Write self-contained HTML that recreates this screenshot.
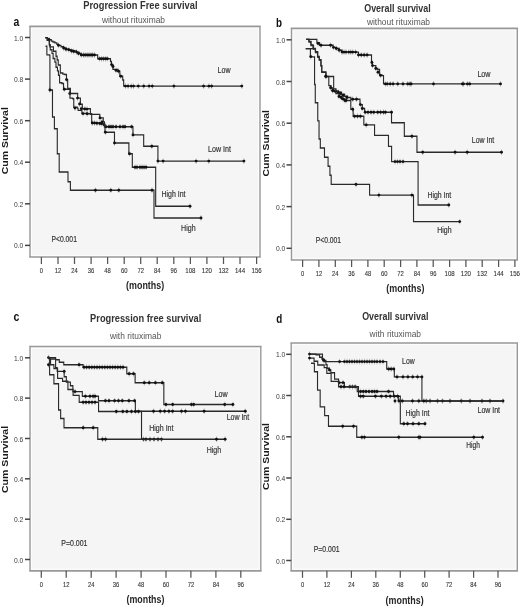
<!DOCTYPE html>
<html><head><meta charset="utf-8"><style>
html,body{margin:0;padding:0;background:#fff;width:520px;height:606px;overflow:hidden}
text{font-family:"Liberation Sans", sans-serif}
</style></head><body>
<svg width="520" height="606" viewBox="0 0 520 606" style="will-change:transform;position:absolute;left:0;top:0">
<rect width="520" height="606" fill="#fff"/>
<rect x="30" y="26.3" width="230" height="230.7" fill="#f5f5f5"/>
<rect x="31.5" y="28.0" width="227" height="227.29999999999998" fill="none" stroke="#fff" stroke-width="0.9" opacity="0.85"/>
<path d="M29.25,26.3H260.75M29.25,257H260.75" stroke="#999" stroke-width="1.7"/>
<path d="M30,26.3V257M260,26.3V257" stroke="#999" stroke-width="1.4"/>
<path d="M25,245.4H30" stroke="#444" stroke-width="1.5"/>
<text x="23.3" y="248.4" font-size="8.0" font-weight="400" fill="#3a3a3a" text-anchor="end" textLength="9.3" lengthAdjust="spacingAndGlyphs">0.0</text>
<path d="M25,203.8H30" stroke="#444" stroke-width="1.5"/>
<text x="23.3" y="206.8" font-size="8.0" font-weight="400" fill="#3a3a3a" text-anchor="end" textLength="9.3" lengthAdjust="spacingAndGlyphs">0.2</text>
<path d="M25,162.2H30" stroke="#444" stroke-width="1.5"/>
<text x="23.3" y="165.2" font-size="8.0" font-weight="400" fill="#3a3a3a" text-anchor="end" textLength="9.3" lengthAdjust="spacingAndGlyphs">0.4</text>
<path d="M25,120.7H30" stroke="#444" stroke-width="1.5"/>
<text x="23.3" y="123.7" font-size="8.0" font-weight="400" fill="#3a3a3a" text-anchor="end" textLength="9.3" lengthAdjust="spacingAndGlyphs">0.6</text>
<path d="M25,79.1H30" stroke="#444" stroke-width="1.5"/>
<text x="23.3" y="82.1" font-size="8.0" font-weight="400" fill="#3a3a3a" text-anchor="end" textLength="9.3" lengthAdjust="spacingAndGlyphs">0.8</text>
<path d="M25,37.5H30" stroke="#444" stroke-width="1.5"/>
<text x="23.3" y="40.5" font-size="8.0" font-weight="400" fill="#3a3a3a" text-anchor="end" textLength="9.3" lengthAdjust="spacingAndGlyphs">1.0</text>
<path d="M41.4,257V264" stroke="#555" stroke-width="1.25"/>
<text x="41.4" y="273.2" font-size="7.6" font-weight="400" fill="#333" text-anchor="middle" textLength="3.2" lengthAdjust="spacingAndGlyphs" stroke="#333" stroke-width="0.12">0</text>
<path d="M58.0,257V264" stroke="#555" stroke-width="1.25"/>
<text x="58.0" y="273.2" font-size="7.6" font-weight="400" fill="#333" text-anchor="middle" textLength="6.5" lengthAdjust="spacingAndGlyphs" stroke="#333" stroke-width="0.12">12</text>
<path d="M74.5,257V264" stroke="#555" stroke-width="1.25"/>
<text x="74.5" y="273.2" font-size="7.6" font-weight="400" fill="#333" text-anchor="middle" textLength="6.5" lengthAdjust="spacingAndGlyphs" stroke="#333" stroke-width="0.12">24</text>
<path d="M91.1,257V264" stroke="#555" stroke-width="1.25"/>
<text x="91.1" y="273.2" font-size="7.6" font-weight="400" fill="#333" text-anchor="middle" textLength="6.5" lengthAdjust="spacingAndGlyphs" stroke="#333" stroke-width="0.12">36</text>
<path d="M107.6,257V264" stroke="#555" stroke-width="1.25"/>
<text x="107.6" y="273.2" font-size="7.6" font-weight="400" fill="#333" text-anchor="middle" textLength="6.5" lengthAdjust="spacingAndGlyphs" stroke="#333" stroke-width="0.12">48</text>
<path d="M124.2,257V264" stroke="#555" stroke-width="1.25"/>
<text x="124.2" y="273.2" font-size="7.6" font-weight="400" fill="#333" text-anchor="middle" textLength="6.5" lengthAdjust="spacingAndGlyphs" stroke="#333" stroke-width="0.12">60</text>
<path d="M140.7,257V264" stroke="#555" stroke-width="1.25"/>
<text x="140.7" y="273.2" font-size="7.6" font-weight="400" fill="#333" text-anchor="middle" textLength="6.5" lengthAdjust="spacingAndGlyphs" stroke="#333" stroke-width="0.12">72</text>
<path d="M157.2,257V264" stroke="#555" stroke-width="1.25"/>
<text x="157.2" y="273.2" font-size="7.6" font-weight="400" fill="#333" text-anchor="middle" textLength="6.5" lengthAdjust="spacingAndGlyphs" stroke="#333" stroke-width="0.12">84</text>
<path d="M173.8,257V264" stroke="#555" stroke-width="1.25"/>
<text x="173.8" y="273.2" font-size="7.6" font-weight="400" fill="#333" text-anchor="middle" textLength="6.5" lengthAdjust="spacingAndGlyphs" stroke="#333" stroke-width="0.12">96</text>
<path d="M190.4,257V264" stroke="#555" stroke-width="1.25"/>
<text x="190.4" y="273.2" font-size="7.6" font-weight="400" fill="#333" text-anchor="middle" textLength="10.2" lengthAdjust="spacingAndGlyphs" stroke="#333" stroke-width="0.12">108</text>
<path d="M206.9,257V264" stroke="#555" stroke-width="1.25"/>
<text x="206.9" y="273.2" font-size="7.6" font-weight="400" fill="#333" text-anchor="middle" textLength="10.2" lengthAdjust="spacingAndGlyphs" stroke="#333" stroke-width="0.12">120</text>
<path d="M223.5,257V264" stroke="#555" stroke-width="1.25"/>
<text x="223.5" y="273.2" font-size="7.6" font-weight="400" fill="#333" text-anchor="middle" textLength="10.2" lengthAdjust="spacingAndGlyphs" stroke="#333" stroke-width="0.12">132</text>
<path d="M240.0,257V264" stroke="#555" stroke-width="1.25"/>
<text x="240.0" y="273.2" font-size="7.6" font-weight="400" fill="#333" text-anchor="middle" textLength="10.2" lengthAdjust="spacingAndGlyphs" stroke="#333" stroke-width="0.12">144</text>
<path d="M256.6,257V264" stroke="#555" stroke-width="1.25"/>
<text x="256.6" y="273.2" font-size="7.6" font-weight="400" fill="#333" text-anchor="middle" textLength="10.2" lengthAdjust="spacingAndGlyphs" stroke="#333" stroke-width="0.12">156</text>
<rect x="291.5" y="28.3" width="225.79999999999995" height="231.7" fill="#f5f5f5"/>
<rect x="293.0" y="30.0" width="222.79999999999995" height="228.29999999999998" fill="none" stroke="#fff" stroke-width="0.9" opacity="0.85"/>
<path d="M290.75,28.3H518.05M290.75,260H518.05" stroke="#999" stroke-width="1.7"/>
<path d="M291.5,28.3V260M517.3,28.3V260" stroke="#999" stroke-width="1.4"/>
<path d="M286.5,248.3H291.5" stroke="#444" stroke-width="1.5"/>
<text x="285.3" y="251.3" font-size="8.0" font-weight="400" fill="#3a3a3a" text-anchor="end" textLength="9.3" lengthAdjust="spacingAndGlyphs">0.0</text>
<path d="M286.5,206.6H291.5" stroke="#444" stroke-width="1.5"/>
<text x="285.3" y="209.6" font-size="8.0" font-weight="400" fill="#3a3a3a" text-anchor="end" textLength="9.3" lengthAdjust="spacingAndGlyphs">0.2</text>
<path d="M286.5,164.9H291.5" stroke="#444" stroke-width="1.5"/>
<text x="285.3" y="167.9" font-size="8.0" font-weight="400" fill="#3a3a3a" text-anchor="end" textLength="9.3" lengthAdjust="spacingAndGlyphs">0.4</text>
<path d="M286.5,123.2H291.5" stroke="#444" stroke-width="1.5"/>
<text x="285.3" y="126.2" font-size="8.0" font-weight="400" fill="#3a3a3a" text-anchor="end" textLength="9.3" lengthAdjust="spacingAndGlyphs">0.6</text>
<path d="M286.5,81.5H291.5" stroke="#444" stroke-width="1.5"/>
<text x="285.3" y="84.5" font-size="8.0" font-weight="400" fill="#3a3a3a" text-anchor="end" textLength="9.3" lengthAdjust="spacingAndGlyphs">0.8</text>
<path d="M286.5,39.8H291.5" stroke="#444" stroke-width="1.5"/>
<text x="285.3" y="42.8" font-size="8.0" font-weight="400" fill="#3a3a3a" text-anchor="end" textLength="9.3" lengthAdjust="spacingAndGlyphs">1.0</text>
<path d="M302.6,260V267" stroke="#555" stroke-width="1.25"/>
<text x="302.6" y="276.2" font-size="7.6" font-weight="400" fill="#333" text-anchor="middle" textLength="3.2" lengthAdjust="spacingAndGlyphs" stroke="#333" stroke-width="0.12">0</text>
<path d="M318.9,260V267" stroke="#555" stroke-width="1.25"/>
<text x="318.9" y="276.2" font-size="7.6" font-weight="400" fill="#333" text-anchor="middle" textLength="6.5" lengthAdjust="spacingAndGlyphs" stroke="#333" stroke-width="0.12">12</text>
<path d="M335.3,260V267" stroke="#555" stroke-width="1.25"/>
<text x="335.3" y="276.2" font-size="7.6" font-weight="400" fill="#333" text-anchor="middle" textLength="6.5" lengthAdjust="spacingAndGlyphs" stroke="#333" stroke-width="0.12">24</text>
<path d="M351.6,260V267" stroke="#555" stroke-width="1.25"/>
<text x="351.6" y="276.2" font-size="7.6" font-weight="400" fill="#333" text-anchor="middle" textLength="6.5" lengthAdjust="spacingAndGlyphs" stroke="#333" stroke-width="0.12">36</text>
<path d="M367.9,260V267" stroke="#555" stroke-width="1.25"/>
<text x="367.9" y="276.2" font-size="7.6" font-weight="400" fill="#333" text-anchor="middle" textLength="6.5" lengthAdjust="spacingAndGlyphs" stroke="#333" stroke-width="0.12">48</text>
<path d="M384.2,260V267" stroke="#555" stroke-width="1.25"/>
<text x="384.2" y="276.2" font-size="7.6" font-weight="400" fill="#333" text-anchor="middle" textLength="6.5" lengthAdjust="spacingAndGlyphs" stroke="#333" stroke-width="0.12">60</text>
<path d="M400.6,260V267" stroke="#555" stroke-width="1.25"/>
<text x="400.6" y="276.2" font-size="7.6" font-weight="400" fill="#333" text-anchor="middle" textLength="6.5" lengthAdjust="spacingAndGlyphs" stroke="#333" stroke-width="0.12">72</text>
<path d="M416.9,260V267" stroke="#555" stroke-width="1.25"/>
<text x="416.9" y="276.2" font-size="7.6" font-weight="400" fill="#333" text-anchor="middle" textLength="6.5" lengthAdjust="spacingAndGlyphs" stroke="#333" stroke-width="0.12">84</text>
<path d="M433.2,260V267" stroke="#555" stroke-width="1.25"/>
<text x="433.2" y="276.2" font-size="7.6" font-weight="400" fill="#333" text-anchor="middle" textLength="6.5" lengthAdjust="spacingAndGlyphs" stroke="#333" stroke-width="0.12">96</text>
<path d="M449.6,260V267" stroke="#555" stroke-width="1.25"/>
<text x="449.6" y="276.2" font-size="7.6" font-weight="400" fill="#333" text-anchor="middle" textLength="10.2" lengthAdjust="spacingAndGlyphs" stroke="#333" stroke-width="0.12">108</text>
<path d="M465.9,260V267" stroke="#555" stroke-width="1.25"/>
<text x="465.9" y="276.2" font-size="7.6" font-weight="400" fill="#333" text-anchor="middle" textLength="10.2" lengthAdjust="spacingAndGlyphs" stroke="#333" stroke-width="0.12">120</text>
<path d="M482.2,260V267" stroke="#555" stroke-width="1.25"/>
<text x="482.2" y="276.2" font-size="7.6" font-weight="400" fill="#333" text-anchor="middle" textLength="10.2" lengthAdjust="spacingAndGlyphs" stroke="#333" stroke-width="0.12">132</text>
<path d="M498.6,260V267" stroke="#555" stroke-width="1.25"/>
<text x="498.6" y="276.2" font-size="7.6" font-weight="400" fill="#333" text-anchor="middle" textLength="10.2" lengthAdjust="spacingAndGlyphs" stroke="#333" stroke-width="0.12">144</text>
<path d="M514.9,260V267" stroke="#555" stroke-width="1.25"/>
<text x="514.9" y="276.2" font-size="7.6" font-weight="400" fill="#333" text-anchor="middle" textLength="10.2" lengthAdjust="spacingAndGlyphs" stroke="#333" stroke-width="0.12">156</text>
<rect x="30" y="346.5" width="230.8" height="224.29999999999995" fill="#f5f5f5"/>
<rect x="31.5" y="348.2" width="227.8" height="220.89999999999995" fill="none" stroke="#fff" stroke-width="0.9" opacity="0.85"/>
<path d="M29.25,346.5H261.55M29.25,570.8H261.55" stroke="#999" stroke-width="1.7"/>
<path d="M30,346.5V570.8M260.8,346.5V570.8" stroke="#999" stroke-width="1.4"/>
<path d="M25,559.5H30" stroke="#444" stroke-width="1.5"/>
<text x="23.3" y="562.5" font-size="8.0" font-weight="400" fill="#3a3a3a" text-anchor="end" textLength="9.3" lengthAdjust="spacingAndGlyphs">0.0</text>
<path d="M25,519.2H30" stroke="#444" stroke-width="1.5"/>
<text x="23.3" y="522.2" font-size="8.0" font-weight="400" fill="#3a3a3a" text-anchor="end" textLength="9.3" lengthAdjust="spacingAndGlyphs">0.2</text>
<path d="M25,478.8H30" stroke="#444" stroke-width="1.5"/>
<text x="23.3" y="481.8" font-size="8.0" font-weight="400" fill="#3a3a3a" text-anchor="end" textLength="9.3" lengthAdjust="spacingAndGlyphs">0.4</text>
<path d="M25,438.5H30" stroke="#444" stroke-width="1.5"/>
<text x="23.3" y="441.5" font-size="8.0" font-weight="400" fill="#3a3a3a" text-anchor="end" textLength="9.3" lengthAdjust="spacingAndGlyphs">0.6</text>
<path d="M25,398.1H30" stroke="#444" stroke-width="1.5"/>
<text x="23.3" y="401.1" font-size="8.0" font-weight="400" fill="#3a3a3a" text-anchor="end" textLength="9.3" lengthAdjust="spacingAndGlyphs">0.8</text>
<path d="M25,357.8H30" stroke="#444" stroke-width="1.5"/>
<text x="23.3" y="360.8" font-size="8.0" font-weight="400" fill="#3a3a3a" text-anchor="end" textLength="9.3" lengthAdjust="spacingAndGlyphs">1.0</text>
<path d="M41.3,570.8V577.8" stroke="#555" stroke-width="1.25"/>
<text x="41.3" y="587.0" font-size="7.6" font-weight="400" fill="#333" text-anchor="middle" textLength="3.2" lengthAdjust="spacingAndGlyphs" stroke="#333" stroke-width="0.12">0</text>
<path d="M66.2,570.8V577.8" stroke="#555" stroke-width="1.25"/>
<text x="66.2" y="587.0" font-size="7.6" font-weight="400" fill="#333" text-anchor="middle" textLength="6.5" lengthAdjust="spacingAndGlyphs" stroke="#333" stroke-width="0.12">12</text>
<path d="M91.2,570.8V577.8" stroke="#555" stroke-width="1.25"/>
<text x="91.2" y="587.0" font-size="7.6" font-weight="400" fill="#333" text-anchor="middle" textLength="6.5" lengthAdjust="spacingAndGlyphs" stroke="#333" stroke-width="0.12">24</text>
<path d="M116.1,570.8V577.8" stroke="#555" stroke-width="1.25"/>
<text x="116.1" y="587.0" font-size="7.6" font-weight="400" fill="#333" text-anchor="middle" textLength="6.5" lengthAdjust="spacingAndGlyphs" stroke="#333" stroke-width="0.12">36</text>
<path d="M141.1,570.8V577.8" stroke="#555" stroke-width="1.25"/>
<text x="141.1" y="587.0" font-size="7.6" font-weight="400" fill="#333" text-anchor="middle" textLength="6.5" lengthAdjust="spacingAndGlyphs" stroke="#333" stroke-width="0.12">48</text>
<path d="M166.0,570.8V577.8" stroke="#555" stroke-width="1.25"/>
<text x="166.0" y="587.0" font-size="7.6" font-weight="400" fill="#333" text-anchor="middle" textLength="6.5" lengthAdjust="spacingAndGlyphs" stroke="#333" stroke-width="0.12">60</text>
<path d="M190.9,570.8V577.8" stroke="#555" stroke-width="1.25"/>
<text x="190.9" y="587.0" font-size="7.6" font-weight="400" fill="#333" text-anchor="middle" textLength="6.5" lengthAdjust="spacingAndGlyphs" stroke="#333" stroke-width="0.12">72</text>
<path d="M215.9,570.8V577.8" stroke="#555" stroke-width="1.25"/>
<text x="215.9" y="587.0" font-size="7.6" font-weight="400" fill="#333" text-anchor="middle" textLength="6.5" lengthAdjust="spacingAndGlyphs" stroke="#333" stroke-width="0.12">84</text>
<path d="M240.8,570.8V577.8" stroke="#555" stroke-width="1.25"/>
<text x="240.8" y="587.0" font-size="7.6" font-weight="400" fill="#333" text-anchor="middle" textLength="6.5" lengthAdjust="spacingAndGlyphs" stroke="#333" stroke-width="0.12">96</text>
<rect x="291.2" y="343" width="226.09999999999997" height="227.79999999999995" fill="#f5f5f5"/>
<rect x="292.7" y="344.7" width="223.09999999999997" height="224.39999999999995" fill="none" stroke="#fff" stroke-width="0.9" opacity="0.85"/>
<path d="M290.45,343H518.05M290.45,570.8H518.05" stroke="#999" stroke-width="1.7"/>
<path d="M291.2,343V570.8M517.3,343V570.8" stroke="#999" stroke-width="1.4"/>
<path d="M286.2,560.5H291.2" stroke="#444" stroke-width="1.5"/>
<text x="285.3" y="563.5" font-size="8.0" font-weight="400" fill="#3a3a3a" text-anchor="end" textLength="9.3" lengthAdjust="spacingAndGlyphs">0.0</text>
<path d="M286.2,519.3H291.2" stroke="#444" stroke-width="1.5"/>
<text x="285.3" y="522.3" font-size="8.0" font-weight="400" fill="#3a3a3a" text-anchor="end" textLength="9.3" lengthAdjust="spacingAndGlyphs">0.2</text>
<path d="M286.2,478.0H291.2" stroke="#444" stroke-width="1.5"/>
<text x="285.3" y="481.0" font-size="8.0" font-weight="400" fill="#3a3a3a" text-anchor="end" textLength="9.3" lengthAdjust="spacingAndGlyphs">0.4</text>
<path d="M286.2,436.8H291.2" stroke="#444" stroke-width="1.5"/>
<text x="285.3" y="439.8" font-size="8.0" font-weight="400" fill="#3a3a3a" text-anchor="end" textLength="9.3" lengthAdjust="spacingAndGlyphs">0.6</text>
<path d="M286.2,395.5H291.2" stroke="#444" stroke-width="1.5"/>
<text x="285.3" y="398.5" font-size="8.0" font-weight="400" fill="#3a3a3a" text-anchor="end" textLength="9.3" lengthAdjust="spacingAndGlyphs">0.8</text>
<path d="M286.2,354.3H291.2" stroke="#444" stroke-width="1.5"/>
<text x="285.3" y="357.3" font-size="8.0" font-weight="400" fill="#3a3a3a" text-anchor="end" textLength="9.3" lengthAdjust="spacingAndGlyphs">1.0</text>
<path d="M302.5,570.8V577.8" stroke="#555" stroke-width="1.25"/>
<text x="302.5" y="587.0" font-size="7.6" font-weight="400" fill="#333" text-anchor="middle" textLength="3.2" lengthAdjust="spacingAndGlyphs" stroke="#333" stroke-width="0.12">0</text>
<path d="M326.9,570.8V577.8" stroke="#555" stroke-width="1.25"/>
<text x="326.9" y="587.0" font-size="7.6" font-weight="400" fill="#333" text-anchor="middle" textLength="6.5" lengthAdjust="spacingAndGlyphs" stroke="#333" stroke-width="0.12">12</text>
<path d="M351.4,570.8V577.8" stroke="#555" stroke-width="1.25"/>
<text x="351.4" y="587.0" font-size="7.6" font-weight="400" fill="#333" text-anchor="middle" textLength="6.5" lengthAdjust="spacingAndGlyphs" stroke="#333" stroke-width="0.12">24</text>
<path d="M375.8,570.8V577.8" stroke="#555" stroke-width="1.25"/>
<text x="375.8" y="587.0" font-size="7.6" font-weight="400" fill="#333" text-anchor="middle" textLength="6.5" lengthAdjust="spacingAndGlyphs" stroke="#333" stroke-width="0.12">36</text>
<path d="M400.3,570.8V577.8" stroke="#555" stroke-width="1.25"/>
<text x="400.3" y="587.0" font-size="7.6" font-weight="400" fill="#333" text-anchor="middle" textLength="6.5" lengthAdjust="spacingAndGlyphs" stroke="#333" stroke-width="0.12">48</text>
<path d="M424.7,570.8V577.8" stroke="#555" stroke-width="1.25"/>
<text x="424.7" y="587.0" font-size="7.6" font-weight="400" fill="#333" text-anchor="middle" textLength="6.5" lengthAdjust="spacingAndGlyphs" stroke="#333" stroke-width="0.12">60</text>
<path d="M449.1,570.8V577.8" stroke="#555" stroke-width="1.25"/>
<text x="449.1" y="587.0" font-size="7.6" font-weight="400" fill="#333" text-anchor="middle" textLength="6.5" lengthAdjust="spacingAndGlyphs" stroke="#333" stroke-width="0.12">72</text>
<path d="M473.6,570.8V577.8" stroke="#555" stroke-width="1.25"/>
<text x="473.6" y="587.0" font-size="7.6" font-weight="400" fill="#333" text-anchor="middle" textLength="6.5" lengthAdjust="spacingAndGlyphs" stroke="#333" stroke-width="0.12">84</text>
<path d="M498.0,570.8V577.8" stroke="#555" stroke-width="1.25"/>
<text x="498.0" y="587.0" font-size="7.6" font-weight="400" fill="#333" text-anchor="middle" textLength="6.5" lengthAdjust="spacingAndGlyphs" stroke="#333" stroke-width="0.12">96</text>
<text x="13.6" y="26.2" font-size="12.5" font-weight="700" fill="#111" text-anchor="start" textLength="5.8" lengthAdjust="spacingAndGlyphs">a</text>
<text x="276.0" y="27.2" font-size="12.5" font-weight="700" fill="#111" text-anchor="start" textLength="6.0" lengthAdjust="spacingAndGlyphs">b</text>
<text x="13.4" y="320.8" font-size="12.5" font-weight="700" fill="#111" text-anchor="start" textLength="5.9" lengthAdjust="spacingAndGlyphs">c</text>
<text x="276.3" y="322.9" font-size="12.5" font-weight="700" fill="#111" text-anchor="start" textLength="6.0" lengthAdjust="spacingAndGlyphs">d</text>
<text x="83.2" y="9.0" font-size="11" font-weight="700" fill="#333" text-anchor="start" textLength="114.3" lengthAdjust="spacingAndGlyphs">Progression Free survival</text>
<text x="101.9" y="23.0" font-size="9" font-weight="400" fill="#555" text-anchor="start" textLength="63.1" lengthAdjust="spacingAndGlyphs">without rituximab</text>
<text x="364.2" y="11.6" font-size="11" font-weight="700" fill="#333" text-anchor="start" textLength="66.6" lengthAdjust="spacingAndGlyphs">Overall survival</text>
<text x="366.9" y="25.2" font-size="9" font-weight="400" fill="#555" text-anchor="start" textLength="63.1" lengthAdjust="spacingAndGlyphs">without rituximab</text>
<text x="90.1" y="322.0" font-size="11" font-weight="700" fill="#333" text-anchor="start" textLength="111.2" lengthAdjust="spacingAndGlyphs">Progression free survival</text>
<text x="109.9" y="339.2" font-size="9" font-weight="400" fill="#555" text-anchor="start" textLength="51.5" lengthAdjust="spacingAndGlyphs">with rituximab</text>
<text x="362.2" y="320.0" font-size="11" font-weight="700" fill="#333" text-anchor="start" textLength="66.2" lengthAdjust="spacingAndGlyphs">Overall survival</text>
<text x="369.6" y="337.4" font-size="9" font-weight="400" fill="#555" text-anchor="start" textLength="51.4" lengthAdjust="spacingAndGlyphs">with rituximab</text>
<text x="126.1" y="289.2" font-size="10" font-weight="700" fill="#262626" text-anchor="start" textLength="38.1" lengthAdjust="spacingAndGlyphs">(months)</text>
<text x="386.3" y="292.2" font-size="10" font-weight="700" fill="#262626" text-anchor="start" textLength="38.1" lengthAdjust="spacingAndGlyphs">(months)</text>
<text x="126.5" y="602.7" font-size="10" font-weight="700" fill="#262626" text-anchor="start" textLength="37.9" lengthAdjust="spacingAndGlyphs">(months)</text>
<text x="385.6" y="603.5" font-size="10" font-weight="700" fill="#262626" text-anchor="start" textLength="38.1" lengthAdjust="spacingAndGlyphs">(months)</text>
<text transform="translate(7.8,174.3) scale(0.8,1) rotate(-90)" font-size="10.5" font-weight="700" fill="#1a1a1a" text-anchor="start" textLength="67.1" lengthAdjust="spacingAndGlyphs">Cum Survival</text>
<text transform="translate(269.0,176.4) scale(0.8,1) rotate(-90)" font-size="10.5" font-weight="700" fill="#1a1a1a" text-anchor="start" textLength="66.4" lengthAdjust="spacingAndGlyphs">Cum Survival</text>
<text transform="translate(7.8,493.0) scale(0.8,1) rotate(-90)" font-size="10.5" font-weight="700" fill="#1a1a1a" text-anchor="start" textLength="67.1" lengthAdjust="spacingAndGlyphs">Cum Survival</text>
<text transform="translate(269.0,490.0) scale(0.8,1) rotate(-90)" font-size="10.5" font-weight="700" fill="#1a1a1a" text-anchor="start" textLength="66.9" lengthAdjust="spacingAndGlyphs">Cum Survival</text>
<text x="51.5" y="242.3" font-size="8.5" font-weight="400" fill="#333" text-anchor="start" textLength="25.4" lengthAdjust="spacingAndGlyphs" stroke="#333" stroke-width="0.18">P&lt;0.001</text>
<text x="315.8" y="242.5" font-size="8.5" font-weight="400" fill="#333" text-anchor="start" textLength="25.2" lengthAdjust="spacingAndGlyphs" stroke="#333" stroke-width="0.18">P&lt;0.001</text>
<text x="61.3" y="546.3" font-size="8.5" font-weight="400" fill="#333" text-anchor="start" textLength="26.2" lengthAdjust="spacingAndGlyphs" stroke="#333" stroke-width="0.18">P=0.001</text>
<text x="313.8" y="551.8" font-size="8.5" font-weight="400" fill="#333" text-anchor="start" textLength="25.7" lengthAdjust="spacingAndGlyphs" stroke="#333" stroke-width="0.18">P=0.001</text>
<text x="217.6" y="72.8" font-size="8.5" font-weight="400" fill="#333" text-anchor="start" textLength="12.9" lengthAdjust="spacingAndGlyphs" stroke="#333" stroke-width="0.18">Low</text>
<text x="208.1" y="152.1" font-size="8.5" font-weight="400" fill="#333" text-anchor="start" textLength="22.8" lengthAdjust="spacingAndGlyphs" stroke="#333" stroke-width="0.18">Low Int</text>
<text x="161.5" y="197.1" font-size="8.5" font-weight="400" fill="#333" text-anchor="start" textLength="24.0" lengthAdjust="spacingAndGlyphs" stroke="#333" stroke-width="0.18">High Int</text>
<text x="181.1" y="230.7" font-size="8.5" font-weight="400" fill="#333" text-anchor="start" textLength="14.5" lengthAdjust="spacingAndGlyphs" stroke="#333" stroke-width="0.18">High</text>
<text x="477.4" y="76.9" font-size="8.5" font-weight="400" fill="#333" text-anchor="start" textLength="13.1" lengthAdjust="spacingAndGlyphs" stroke="#333" stroke-width="0.18">Low</text>
<text x="471.8" y="143.4" font-size="8.5" font-weight="400" fill="#333" text-anchor="start" textLength="22.4" lengthAdjust="spacingAndGlyphs" stroke="#333" stroke-width="0.18">Low Int</text>
<text x="427.4" y="198.0" font-size="8.5" font-weight="400" fill="#333" text-anchor="start" textLength="23.8" lengthAdjust="spacingAndGlyphs" stroke="#333" stroke-width="0.18">High Int</text>
<text x="437.3" y="233.4" font-size="8.5" font-weight="400" fill="#333" text-anchor="start" textLength="14.3" lengthAdjust="spacingAndGlyphs" stroke="#333" stroke-width="0.18">High</text>
<text x="214.5" y="396.7" font-size="8.5" font-weight="400" fill="#333" text-anchor="start" textLength="13.1" lengthAdjust="spacingAndGlyphs" stroke="#333" stroke-width="0.18">Low</text>
<text x="226.7" y="419.7" font-size="8.5" font-weight="400" fill="#333" text-anchor="start" textLength="22.5" lengthAdjust="spacingAndGlyphs" stroke="#333" stroke-width="0.18">Low Int</text>
<text x="149.2" y="430.6" font-size="8.5" font-weight="400" fill="#333" text-anchor="start" textLength="24.3" lengthAdjust="spacingAndGlyphs" stroke="#333" stroke-width="0.18">High Int</text>
<text x="206.7" y="452.6" font-size="8.5" font-weight="400" fill="#333" text-anchor="start" textLength="14.5" lengthAdjust="spacingAndGlyphs" stroke="#333" stroke-width="0.18">High</text>
<text x="402.1" y="363.8" font-size="8.5" font-weight="400" fill="#333" text-anchor="start" textLength="12.5" lengthAdjust="spacingAndGlyphs" stroke="#333" stroke-width="0.18">Low</text>
<text x="477.5" y="412.5" font-size="8.5" font-weight="400" fill="#333" text-anchor="start" textLength="22.5" lengthAdjust="spacingAndGlyphs" stroke="#333" stroke-width="0.18">Low Int</text>
<text x="405.5" y="416.0" font-size="8.5" font-weight="400" fill="#333" text-anchor="start" textLength="24.0" lengthAdjust="spacingAndGlyphs" stroke="#333" stroke-width="0.18">High Int</text>
<text x="466.3" y="447.5" font-size="8.5" font-weight="400" fill="#333" text-anchor="start" textLength="13.7" lengthAdjust="spacingAndGlyphs" stroke="#333" stroke-width="0.18">High</text>
<path transform="scale(0.8,1)" d="M56.6,37.6H58.8V38.6H61.2V39.8H64.1V41.1H66.2V42.0H68.6V42.9H71.0V44.2H73.1V45.4H76.2V46.7H79.5V48.0H82.5V49.2H85.6V49.8H88.5V50.2H91.2V51.0H95.6V52.1H98.8V53.5H101.6V55.0H119.7H122.1V58.8H136.5H138.1V61.5H139.4V64.6H141.2V69.4H147.4V71.3H149.8V76.2H153.4V80.0H154.6V86.1H302.2" fill="none" stroke="#2a2a2a" stroke-width="1.4"/>
<path d="M49.0,37.0V42.6" stroke="#2a2a2a" stroke-width="0.8" opacity="0.35"/>
<circle cx="49.0" cy="39.8" r="1.45" fill="#111"/>
<path d="M58.5,42.6V48.2" stroke="#2a2a2a" stroke-width="0.8" opacity="0.35"/>
<circle cx="58.5" cy="45.4" r="1.45" fill="#111"/>
<path d="M63.6,45.2V50.8" stroke="#2a2a2a" stroke-width="0.8" opacity="0.35"/>
<circle cx="63.6" cy="48.0" r="1.45" fill="#111"/>
<path d="M66.0,46.4V52.0" stroke="#2a2a2a" stroke-width="0.8" opacity="0.35"/>
<circle cx="66.0" cy="49.2" r="1.45" fill="#111"/>
<path d="M68.8,47.0V52.6" stroke="#2a2a2a" stroke-width="0.8" opacity="0.35"/>
<circle cx="68.8" cy="49.8" r="1.45" fill="#111"/>
<path d="M71.5,48.2V53.8" stroke="#2a2a2a" stroke-width="0.8" opacity="0.35"/>
<circle cx="71.5" cy="51.0" r="1.45" fill="#111"/>
<path d="M73.7,48.7V54.3" stroke="#2a2a2a" stroke-width="0.8" opacity="0.35"/>
<circle cx="73.7" cy="51.5" r="1.45" fill="#111"/>
<path d="M76.5,49.3V54.9" stroke="#2a2a2a" stroke-width="0.8" opacity="0.35"/>
<circle cx="76.5" cy="52.1" r="1.45" fill="#111"/>
<path d="M78.5,50.7V56.3" stroke="#2a2a2a" stroke-width="0.8" opacity="0.35"/>
<circle cx="78.5" cy="53.5" r="1.45" fill="#111"/>
<path d="M81.3,52.2V57.8" stroke="#2a2a2a" stroke-width="0.8" opacity="0.35"/>
<circle cx="81.3" cy="55.0" r="1.45" fill="#111"/>
<path d="M83.5,52.2V57.8" stroke="#2a2a2a" stroke-width="0.8" opacity="0.35"/>
<circle cx="83.5" cy="55.0" r="1.45" fill="#111"/>
<path d="M85.2,52.2V57.8" stroke="#2a2a2a" stroke-width="0.8" opacity="0.35"/>
<circle cx="85.2" cy="55.0" r="1.45" fill="#111"/>
<path d="M87.2,52.2V57.8" stroke="#2a2a2a" stroke-width="0.8" opacity="0.35"/>
<circle cx="87.2" cy="55.0" r="1.45" fill="#111"/>
<path d="M89.0,52.2V57.8" stroke="#2a2a2a" stroke-width="0.8" opacity="0.35"/>
<circle cx="89.0" cy="55.0" r="1.45" fill="#111"/>
<path d="M91.0,52.2V57.8" stroke="#2a2a2a" stroke-width="0.8" opacity="0.35"/>
<circle cx="91.0" cy="55.0" r="1.45" fill="#111"/>
<path d="M92.5,52.2V57.8" stroke="#2a2a2a" stroke-width="0.8" opacity="0.35"/>
<circle cx="92.5" cy="55.0" r="1.45" fill="#111"/>
<path d="M94.5,52.2V57.8" stroke="#2a2a2a" stroke-width="0.8" opacity="0.35"/>
<circle cx="94.5" cy="55.0" r="1.45" fill="#111"/>
<path d="M99.6,56.0V61.6" stroke="#2a2a2a" stroke-width="0.8" opacity="0.35"/>
<circle cx="99.6" cy="58.8" r="1.45" fill="#111"/>
<path d="M101.5,56.0V61.6" stroke="#2a2a2a" stroke-width="0.8" opacity="0.35"/>
<circle cx="101.5" cy="58.8" r="1.45" fill="#111"/>
<path d="M103.5,56.0V61.6" stroke="#2a2a2a" stroke-width="0.8" opacity="0.35"/>
<circle cx="103.5" cy="58.8" r="1.45" fill="#111"/>
<path d="M105.5,56.0V61.6" stroke="#2a2a2a" stroke-width="0.8" opacity="0.35"/>
<circle cx="105.5" cy="58.8" r="1.45" fill="#111"/>
<path d="M107.3,56.0V61.6" stroke="#2a2a2a" stroke-width="0.8" opacity="0.35"/>
<circle cx="107.3" cy="58.8" r="1.45" fill="#111"/>
<path d="M111.5,61.8V67.4" stroke="#2a2a2a" stroke-width="0.8" opacity="0.35"/>
<circle cx="111.5" cy="64.6" r="1.45" fill="#111"/>
<path d="M113.0,63.7V69.3" stroke="#2a2a2a" stroke-width="0.8" opacity="0.35"/>
<circle cx="113.0" cy="66.5" r="1.45" fill="#111"/>
<path d="M116.0,67.6V73.2" stroke="#2a2a2a" stroke-width="0.8" opacity="0.35"/>
<circle cx="116.0" cy="70.4" r="1.45" fill="#111"/>
<path d="M118.5,68.5V74.1" stroke="#2a2a2a" stroke-width="0.8" opacity="0.35"/>
<circle cx="118.5" cy="71.3" r="1.45" fill="#111"/>
<path d="M120.8,73.4V79.0" stroke="#2a2a2a" stroke-width="0.8" opacity="0.35"/>
<circle cx="120.8" cy="76.2" r="1.45" fill="#111"/>
<path d="M125.4,83.3V88.9" stroke="#2a2a2a" stroke-width="0.8" opacity="0.35"/>
<circle cx="125.4" cy="86.1" r="1.45" fill="#111"/>
<path d="M128.1,83.3V88.9" stroke="#2a2a2a" stroke-width="0.8" opacity="0.35"/>
<circle cx="128.1" cy="86.1" r="1.45" fill="#111"/>
<path d="M131.3,83.3V88.9" stroke="#2a2a2a" stroke-width="0.8" opacity="0.35"/>
<circle cx="131.3" cy="86.1" r="1.45" fill="#111"/>
<path d="M133.5,83.3V88.9" stroke="#2a2a2a" stroke-width="0.8" opacity="0.35"/>
<circle cx="133.5" cy="86.1" r="1.45" fill="#111"/>
<path d="M138.3,83.3V88.9" stroke="#2a2a2a" stroke-width="0.8" opacity="0.35"/>
<circle cx="138.3" cy="86.1" r="1.45" fill="#111"/>
<path d="M143.7,83.3V88.9" stroke="#2a2a2a" stroke-width="0.8" opacity="0.35"/>
<circle cx="143.7" cy="86.1" r="1.45" fill="#111"/>
<path d="M149.1,83.3V88.9" stroke="#2a2a2a" stroke-width="0.8" opacity="0.35"/>
<circle cx="149.1" cy="86.1" r="1.45" fill="#111"/>
<path d="M152.3,83.3V88.9" stroke="#2a2a2a" stroke-width="0.8" opacity="0.35"/>
<circle cx="152.3" cy="86.1" r="1.45" fill="#111"/>
<path d="M173.9,83.3V88.9" stroke="#2a2a2a" stroke-width="0.8" opacity="0.35"/>
<circle cx="173.9" cy="86.1" r="1.45" fill="#111"/>
<path d="M203.6,83.3V88.9" stroke="#2a2a2a" stroke-width="0.8" opacity="0.35"/>
<circle cx="203.6" cy="86.1" r="1.45" fill="#111"/>
<path d="M208.9,83.3V88.9" stroke="#2a2a2a" stroke-width="0.8" opacity="0.35"/>
<circle cx="208.9" cy="86.1" r="1.45" fill="#111"/>
<path d="M211.6,83.3V88.9" stroke="#2a2a2a" stroke-width="0.8" opacity="0.35"/>
<circle cx="211.6" cy="86.1" r="1.45" fill="#111"/>
<path d="M241.8,83.3V88.9" stroke="#2a2a2a" stroke-width="0.8" opacity="0.35"/>
<circle cx="241.8" cy="86.1" r="1.45" fill="#111"/>
<path transform="scale(0.8,1)" d="M56.6,37.6H59.1V40.4H61.7V44.7H62.2V46.9H66.8V51.3H70.0V56.3H71.4V60.0H72.8V60.7V65.0H75.4V65.8V73.0H78.6V74.1H80.9V74.5H83.1V79.6H84.6V88.5H88.0V93.5H97.1V98.1H99.0H100.5V104.2H102.9V108.8H113.0V109.2V114.4H121.9H124.7V117.9H129.1V121.9H130.6V126.8H164.5H166.2V134.9H179.6V146.3H197.4V161.1H304.9" fill="none" stroke="#2a2a2a" stroke-width="1.4"/>
<path d="M66.5,76.8V82.4" stroke="#2a2a2a" stroke-width="0.8" opacity="0.35"/>
<circle cx="66.5" cy="79.6" r="1.45" fill="#111"/>
<path d="M69.8,90.7V96.3" stroke="#2a2a2a" stroke-width="0.8" opacity="0.35"/>
<circle cx="69.8" cy="93.5" r="1.45" fill="#111"/>
<path d="M77.5,95.3V100.9" stroke="#2a2a2a" stroke-width="0.8" opacity="0.35"/>
<circle cx="77.5" cy="98.1" r="1.45" fill="#111"/>
<path d="M79.6,101.2V106.8" stroke="#2a2a2a" stroke-width="0.8" opacity="0.35"/>
<circle cx="79.6" cy="104.0" r="1.45" fill="#111"/>
<path d="M81.3,106.0V111.6" stroke="#2a2a2a" stroke-width="0.8" opacity="0.35"/>
<circle cx="81.3" cy="108.8" r="1.45" fill="#111"/>
<path d="M84.8,106.2V111.8" stroke="#2a2a2a" stroke-width="0.8" opacity="0.35"/>
<circle cx="84.8" cy="109.0" r="1.45" fill="#111"/>
<path d="M87.0,106.3V111.9" stroke="#2a2a2a" stroke-width="0.8" opacity="0.35"/>
<circle cx="87.0" cy="109.1" r="1.45" fill="#111"/>
<path d="M100.0,115.1V120.7" stroke="#2a2a2a" stroke-width="0.8" opacity="0.35"/>
<circle cx="100.0" cy="117.9" r="1.45" fill="#111"/>
<path d="M102.0,119.1V124.7" stroke="#2a2a2a" stroke-width="0.8" opacity="0.35"/>
<circle cx="102.0" cy="121.9" r="1.45" fill="#111"/>
<path d="M103.8,121.7V127.3" stroke="#2a2a2a" stroke-width="0.8" opacity="0.35"/>
<circle cx="103.8" cy="124.5" r="1.45" fill="#111"/>
<path d="M106.0,124.0V129.6" stroke="#2a2a2a" stroke-width="0.8" opacity="0.35"/>
<circle cx="106.0" cy="126.8" r="1.45" fill="#111"/>
<path d="M109.0,124.0V129.6" stroke="#2a2a2a" stroke-width="0.8" opacity="0.35"/>
<circle cx="109.0" cy="126.8" r="1.45" fill="#111"/>
<path d="M111.0,124.0V129.6" stroke="#2a2a2a" stroke-width="0.8" opacity="0.35"/>
<circle cx="111.0" cy="126.8" r="1.45" fill="#111"/>
<path d="M113.0,124.0V129.6" stroke="#2a2a2a" stroke-width="0.8" opacity="0.35"/>
<circle cx="113.0" cy="126.8" r="1.45" fill="#111"/>
<path d="M116.0,124.0V129.6" stroke="#2a2a2a" stroke-width="0.8" opacity="0.35"/>
<circle cx="116.0" cy="126.8" r="1.45" fill="#111"/>
<path d="M120.0,124.0V129.6" stroke="#2a2a2a" stroke-width="0.8" opacity="0.35"/>
<circle cx="120.0" cy="126.8" r="1.45" fill="#111"/>
<path d="M123.0,124.0V129.6" stroke="#2a2a2a" stroke-width="0.8" opacity="0.35"/>
<circle cx="123.0" cy="126.8" r="1.45" fill="#111"/>
<path d="M125.0,124.0V129.6" stroke="#2a2a2a" stroke-width="0.8" opacity="0.35"/>
<circle cx="125.0" cy="126.8" r="1.45" fill="#111"/>
<path d="M131.6,124.0V129.6" stroke="#2a2a2a" stroke-width="0.8" opacity="0.35"/>
<circle cx="131.6" cy="126.8" r="1.45" fill="#111"/>
<path d="M133.0,132.1V137.7" stroke="#2a2a2a" stroke-width="0.8" opacity="0.35"/>
<circle cx="133.0" cy="134.9" r="1.45" fill="#111"/>
<path d="M151.8,143.5V149.1" stroke="#2a2a2a" stroke-width="0.8" opacity="0.35"/>
<circle cx="151.8" cy="146.3" r="1.45" fill="#111"/>
<path d="M157.9,158.3V163.9" stroke="#2a2a2a" stroke-width="0.8" opacity="0.35"/>
<circle cx="157.9" cy="161.1" r="1.45" fill="#111"/>
<path d="M163.1,158.3V163.9" stroke="#2a2a2a" stroke-width="0.8" opacity="0.35"/>
<circle cx="163.1" cy="161.1" r="1.45" fill="#111"/>
<path d="M196.1,158.3V163.9" stroke="#2a2a2a" stroke-width="0.8" opacity="0.35"/>
<circle cx="196.1" cy="161.1" r="1.45" fill="#111"/>
<path d="M208.8,158.3V163.9" stroke="#2a2a2a" stroke-width="0.8" opacity="0.35"/>
<circle cx="208.8" cy="161.1" r="1.45" fill="#111"/>
<path d="M243.9,158.3V163.9" stroke="#2a2a2a" stroke-width="0.8" opacity="0.35"/>
<circle cx="243.9" cy="161.1" r="1.45" fill="#111"/>
<path transform="scale(0.8,1)" d="M56.6,37.6H59.1V40.4H61.7V44.7H62.8V49.8H65.0V53.4H66.4V58.5H68.6V62.1H70.0V67.2H71.8V70.9H73.1V75.2H74.5V78.1V82.7H77.4V83.5H79.4V89.2H85.6H87.5V98.1H90.9V98.8H92.2V107.3H96.6V108.1H97.6V110.4H101.5H102.4V113.5H109.6V113.8H114.6V123.0H126.9V123.6H130.5V124.2H131.2V132.3H143.1V143.0H161.1V153.7H165.4V154.4V167.2H194.6V206.2H237.5" fill="none" stroke="#2a2a2a" stroke-width="1.4"/>
<path d="M64.3,86.4V92.0" stroke="#2a2a2a" stroke-width="0.8" opacity="0.35"/>
<circle cx="64.3" cy="89.2" r="1.45" fill="#111"/>
<path d="M75.0,105.3V110.9" stroke="#2a2a2a" stroke-width="0.8" opacity="0.35"/>
<circle cx="75.0" cy="108.1" r="1.45" fill="#111"/>
<path d="M83.0,110.8V116.4" stroke="#2a2a2a" stroke-width="0.8" opacity="0.35"/>
<circle cx="83.0" cy="113.6" r="1.45" fill="#111"/>
<path d="M87.1,111.0V116.6" stroke="#2a2a2a" stroke-width="0.8" opacity="0.35"/>
<circle cx="87.1" cy="113.8" r="1.45" fill="#111"/>
<path d="M92.3,120.2V125.8" stroke="#2a2a2a" stroke-width="0.8" opacity="0.35"/>
<circle cx="92.3" cy="123.0" r="1.45" fill="#111"/>
<path d="M94.5,120.2V125.8" stroke="#2a2a2a" stroke-width="0.8" opacity="0.35"/>
<circle cx="94.5" cy="123.0" r="1.45" fill="#111"/>
<path d="M96.9,120.5V126.1" stroke="#2a2a2a" stroke-width="0.8" opacity="0.35"/>
<circle cx="96.9" cy="123.3" r="1.45" fill="#111"/>
<path d="M99.8,120.7V126.3" stroke="#2a2a2a" stroke-width="0.8" opacity="0.35"/>
<circle cx="99.8" cy="123.5" r="1.45" fill="#111"/>
<path d="M101.5,120.8V126.4" stroke="#2a2a2a" stroke-width="0.8" opacity="0.35"/>
<circle cx="101.5" cy="123.6" r="1.45" fill="#111"/>
<path d="M105.4,129.4V135.0" stroke="#2a2a2a" stroke-width="0.8" opacity="0.35"/>
<circle cx="105.4" cy="132.2" r="1.45" fill="#111"/>
<path d="M114.5,140.2V145.8" stroke="#2a2a2a" stroke-width="0.8" opacity="0.35"/>
<circle cx="114.5" cy="143.0" r="1.45" fill="#111"/>
<path d="M129.5,150.9V156.5" stroke="#2a2a2a" stroke-width="0.8" opacity="0.35"/>
<circle cx="129.5" cy="153.7" r="1.45" fill="#111"/>
<path d="M135.0,164.4V170.0" stroke="#2a2a2a" stroke-width="0.8" opacity="0.35"/>
<circle cx="135.0" cy="167.2" r="1.45" fill="#111"/>
<path d="M137.0,164.4V170.0" stroke="#2a2a2a" stroke-width="0.8" opacity="0.35"/>
<circle cx="137.0" cy="167.2" r="1.45" fill="#111"/>
<path d="M140.0,164.4V170.0" stroke="#2a2a2a" stroke-width="0.8" opacity="0.35"/>
<circle cx="140.0" cy="167.2" r="1.45" fill="#111"/>
<path d="M142.0,164.4V170.0" stroke="#2a2a2a" stroke-width="0.8" opacity="0.35"/>
<circle cx="142.0" cy="167.2" r="1.45" fill="#111"/>
<path d="M144.0,164.4V170.0" stroke="#2a2a2a" stroke-width="0.8" opacity="0.35"/>
<circle cx="144.0" cy="167.2" r="1.45" fill="#111"/>
<path d="M146.0,164.4V170.0" stroke="#2a2a2a" stroke-width="0.8" opacity="0.35"/>
<circle cx="146.0" cy="167.2" r="1.45" fill="#111"/>
<path d="M190.0,203.4V209.0" stroke="#2a2a2a" stroke-width="0.8" opacity="0.35"/>
<circle cx="190.0" cy="206.2" r="1.45" fill="#111"/>
<path transform="scale(0.8,1)" d="M56.9,46.2H58.6V54.9H62.2V55.6H62.4V90.0H65.6V117.0H68.0V128.8H71.6V153.8H74.0V172.0H85.0V181.7H88.0V190.2H192.5V218.0H251.2" fill="none" stroke="#2a2a2a" stroke-width="1.4"/>
<path d="M49.9,87.2V92.8" stroke="#2a2a2a" stroke-width="0.8" opacity="0.35"/>
<circle cx="49.9" cy="90.0" r="1.45" fill="#111"/>
<path d="M95.4,187.4V193.0" stroke="#2a2a2a" stroke-width="0.8" opacity="0.35"/>
<circle cx="95.4" cy="190.2" r="1.45" fill="#111"/>
<path d="M110.8,187.4V193.0" stroke="#2a2a2a" stroke-width="0.8" opacity="0.35"/>
<circle cx="110.8" cy="190.2" r="1.45" fill="#111"/>
<path d="M118.8,187.4V193.0" stroke="#2a2a2a" stroke-width="0.8" opacity="0.35"/>
<circle cx="118.8" cy="190.2" r="1.45" fill="#111"/>
<path d="M152.0,187.4V193.0" stroke="#2a2a2a" stroke-width="0.8" opacity="0.35"/>
<circle cx="152.0" cy="190.2" r="1.45" fill="#111"/>
<path d="M201.0,215.2V220.8" stroke="#2a2a2a" stroke-width="0.8" opacity="0.35"/>
<circle cx="201.0" cy="218.0" r="1.45" fill="#111"/>
<path transform="scale(0.8,1)" d="M382.7,39.4H392.2H396.1V42.8H399.4V45.3H412.5H416.4V47.4H420.4V48.5H424.0V50.2H427.6V52.1H445.6H448.1V55.0H461.9H464.4V62.0H465.6V65.6H469.8V68.5H472.1V69.5H474.5V75.2H478.1V75.6H479.4V83.9H625.6" fill="none" stroke="#2a2a2a" stroke-width="1.4"/>
<path d="M318.1,40.7V46.3" stroke="#2a2a2a" stroke-width="0.8" opacity="0.35"/>
<circle cx="318.1" cy="43.5" r="1.45" fill="#111"/>
<path d="M321.0,42.5V48.1" stroke="#2a2a2a" stroke-width="0.8" opacity="0.35"/>
<circle cx="321.0" cy="45.3" r="1.45" fill="#111"/>
<path d="M330.6,42.5V48.1" stroke="#2a2a2a" stroke-width="0.8" opacity="0.35"/>
<circle cx="330.6" cy="45.3" r="1.45" fill="#111"/>
<path d="M333.5,44.6V50.2" stroke="#2a2a2a" stroke-width="0.8" opacity="0.35"/>
<circle cx="333.5" cy="47.4" r="1.45" fill="#111"/>
<path d="M336.3,45.7V51.3" stroke="#2a2a2a" stroke-width="0.8" opacity="0.35"/>
<circle cx="336.3" cy="48.5" r="1.45" fill="#111"/>
<path d="M339.2,47.4V53.0" stroke="#2a2a2a" stroke-width="0.8" opacity="0.35"/>
<circle cx="339.2" cy="50.2" r="1.45" fill="#111"/>
<path d="M342.1,49.3V54.9" stroke="#2a2a2a" stroke-width="0.8" opacity="0.35"/>
<circle cx="342.1" cy="52.1" r="1.45" fill="#111"/>
<path d="M344.0,49.3V54.9" stroke="#2a2a2a" stroke-width="0.8" opacity="0.35"/>
<circle cx="344.0" cy="52.1" r="1.45" fill="#111"/>
<path d="M346.0,49.3V54.9" stroke="#2a2a2a" stroke-width="0.8" opacity="0.35"/>
<circle cx="346.0" cy="52.1" r="1.45" fill="#111"/>
<path d="M348.8,49.3V54.9" stroke="#2a2a2a" stroke-width="0.8" opacity="0.35"/>
<circle cx="348.8" cy="52.1" r="1.45" fill="#111"/>
<path d="M350.8,49.3V54.9" stroke="#2a2a2a" stroke-width="0.8" opacity="0.35"/>
<circle cx="350.8" cy="52.1" r="1.45" fill="#111"/>
<path d="M352.7,49.3V54.9" stroke="#2a2a2a" stroke-width="0.8" opacity="0.35"/>
<circle cx="352.7" cy="52.1" r="1.45" fill="#111"/>
<path d="M355.6,49.3V54.9" stroke="#2a2a2a" stroke-width="0.8" opacity="0.35"/>
<circle cx="355.6" cy="52.1" r="1.45" fill="#111"/>
<path d="M358.5,52.2V57.8" stroke="#2a2a2a" stroke-width="0.8" opacity="0.35"/>
<circle cx="358.5" cy="55.0" r="1.45" fill="#111"/>
<path d="M361.3,52.2V57.8" stroke="#2a2a2a" stroke-width="0.8" opacity="0.35"/>
<circle cx="361.3" cy="55.0" r="1.45" fill="#111"/>
<path d="M364.2,52.2V57.8" stroke="#2a2a2a" stroke-width="0.8" opacity="0.35"/>
<circle cx="364.2" cy="55.0" r="1.45" fill="#111"/>
<path d="M367.1,52.2V57.8" stroke="#2a2a2a" stroke-width="0.8" opacity="0.35"/>
<circle cx="367.1" cy="55.0" r="1.45" fill="#111"/>
<path d="M371.9,59.7V65.3" stroke="#2a2a2a" stroke-width="0.8" opacity="0.35"/>
<circle cx="371.9" cy="62.5" r="1.45" fill="#111"/>
<path d="M372.5,62.8V68.4" stroke="#2a2a2a" stroke-width="0.8" opacity="0.35"/>
<circle cx="372.5" cy="65.6" r="1.45" fill="#111"/>
<path d="M375.8,65.7V71.3" stroke="#2a2a2a" stroke-width="0.8" opacity="0.35"/>
<circle cx="375.8" cy="68.5" r="1.45" fill="#111"/>
<path d="M378.0,69.5V75.1" stroke="#2a2a2a" stroke-width="0.8" opacity="0.35"/>
<circle cx="378.0" cy="72.3" r="1.45" fill="#111"/>
<path d="M380.6,72.6V78.2" stroke="#2a2a2a" stroke-width="0.8" opacity="0.35"/>
<circle cx="380.6" cy="75.4" r="1.45" fill="#111"/>
<path d="M385.4,81.1V86.7" stroke="#2a2a2a" stroke-width="0.8" opacity="0.35"/>
<circle cx="385.4" cy="83.9" r="1.45" fill="#111"/>
<path d="M387.3,81.1V86.7" stroke="#2a2a2a" stroke-width="0.8" opacity="0.35"/>
<circle cx="387.3" cy="83.9" r="1.45" fill="#111"/>
<path d="M390.2,81.1V86.7" stroke="#2a2a2a" stroke-width="0.8" opacity="0.35"/>
<circle cx="390.2" cy="83.9" r="1.45" fill="#111"/>
<path d="M393.1,81.1V86.7" stroke="#2a2a2a" stroke-width="0.8" opacity="0.35"/>
<circle cx="393.1" cy="83.9" r="1.45" fill="#111"/>
<path d="M397.7,81.1V86.7" stroke="#2a2a2a" stroke-width="0.8" opacity="0.35"/>
<circle cx="397.7" cy="83.9" r="1.45" fill="#111"/>
<path d="M403.0,81.1V86.7" stroke="#2a2a2a" stroke-width="0.8" opacity="0.35"/>
<circle cx="403.0" cy="83.9" r="1.45" fill="#111"/>
<path d="M407.7,81.1V86.7" stroke="#2a2a2a" stroke-width="0.8" opacity="0.35"/>
<circle cx="407.7" cy="83.9" r="1.45" fill="#111"/>
<path d="M410.0,81.1V86.7" stroke="#2a2a2a" stroke-width="0.8" opacity="0.35"/>
<circle cx="410.0" cy="83.9" r="1.45" fill="#111"/>
<path d="M411.1,81.1V86.7" stroke="#2a2a2a" stroke-width="0.8" opacity="0.35"/>
<circle cx="411.1" cy="83.9" r="1.45" fill="#111"/>
<path d="M433.5,81.1V86.7" stroke="#2a2a2a" stroke-width="0.8" opacity="0.35"/>
<circle cx="433.5" cy="83.9" r="1.45" fill="#111"/>
<path d="M462.4,81.1V86.7" stroke="#2a2a2a" stroke-width="0.8" opacity="0.35"/>
<circle cx="462.4" cy="83.9" r="1.45" fill="#111"/>
<path d="M463.5,81.1V86.7" stroke="#2a2a2a" stroke-width="0.8" opacity="0.35"/>
<circle cx="463.5" cy="83.9" r="1.45" fill="#111"/>
<path d="M467.4,81.1V86.7" stroke="#2a2a2a" stroke-width="0.8" opacity="0.35"/>
<circle cx="467.4" cy="83.9" r="1.45" fill="#111"/>
<path d="M469.7,81.1V86.7" stroke="#2a2a2a" stroke-width="0.8" opacity="0.35"/>
<circle cx="469.7" cy="83.9" r="1.45" fill="#111"/>
<path d="M500.5,81.1V86.7" stroke="#2a2a2a" stroke-width="0.8" opacity="0.35"/>
<circle cx="500.5" cy="83.9" r="1.45" fill="#111"/>
<path transform="scale(0.8,1)" d="M382.7,39.4H386.1V41.4H388.6V44.9H391.2V48.5H394.1V51.8H397.2V57.3H399.1V59.7H401.2V65.8H402.2V72.0H406.4H407.4V76.5H413.0H417.1V79.4V88.9H420.0V91.0H423.1V92.3H426.9V94.3H430.8V96.2H434.4V97.5H438.5V99.2H447.1H450.0V104.6H452.9V108.5H455.8V112.3H489.4V122.8H505.4V136.2H521.2V152.3H626.9" fill="none" stroke="#2a2a2a" stroke-width="1.4"/>
<path d="M325.9,73.7V79.3" stroke="#2a2a2a" stroke-width="0.8" opacity="0.35"/>
<circle cx="325.9" cy="76.5" r="1.45" fill="#111"/>
<path d="M332.5,87.8V93.4" stroke="#2a2a2a" stroke-width="0.8" opacity="0.35"/>
<circle cx="332.5" cy="90.6" r="1.45" fill="#111"/>
<path d="M335.4,88.7V94.3" stroke="#2a2a2a" stroke-width="0.8" opacity="0.35"/>
<circle cx="335.4" cy="91.5" r="1.45" fill="#111"/>
<path d="M338.3,89.7V95.3" stroke="#2a2a2a" stroke-width="0.8" opacity="0.35"/>
<circle cx="338.3" cy="92.5" r="1.45" fill="#111"/>
<path d="M340.2,90.7V96.3" stroke="#2a2a2a" stroke-width="0.8" opacity="0.35"/>
<circle cx="340.2" cy="93.5" r="1.45" fill="#111"/>
<path d="M343.1,92.7V98.3" stroke="#2a2a2a" stroke-width="0.8" opacity="0.35"/>
<circle cx="343.1" cy="95.5" r="1.45" fill="#111"/>
<path d="M346.9,94.7V100.3" stroke="#2a2a2a" stroke-width="0.8" opacity="0.35"/>
<circle cx="346.9" cy="97.5" r="1.45" fill="#111"/>
<path d="M352.7,96.4V102.0" stroke="#2a2a2a" stroke-width="0.8" opacity="0.35"/>
<circle cx="352.7" cy="99.2" r="1.45" fill="#111"/>
<path d="M356.5,96.4V102.0" stroke="#2a2a2a" stroke-width="0.8" opacity="0.35"/>
<circle cx="356.5" cy="99.2" r="1.45" fill="#111"/>
<path d="M360.4,101.8V107.4" stroke="#2a2a2a" stroke-width="0.8" opacity="0.35"/>
<circle cx="360.4" cy="104.6" r="1.45" fill="#111"/>
<path d="M362.3,105.7V111.3" stroke="#2a2a2a" stroke-width="0.8" opacity="0.35"/>
<circle cx="362.3" cy="108.5" r="1.45" fill="#111"/>
<path d="M365.2,109.5V115.1" stroke="#2a2a2a" stroke-width="0.8" opacity="0.35"/>
<circle cx="365.2" cy="112.3" r="1.45" fill="#111"/>
<path d="M368.0,109.5V115.1" stroke="#2a2a2a" stroke-width="0.8" opacity="0.35"/>
<circle cx="368.0" cy="112.3" r="1.45" fill="#111"/>
<path d="M371.0,109.5V115.1" stroke="#2a2a2a" stroke-width="0.8" opacity="0.35"/>
<circle cx="371.0" cy="112.3" r="1.45" fill="#111"/>
<path d="M373.8,109.5V115.1" stroke="#2a2a2a" stroke-width="0.8" opacity="0.35"/>
<circle cx="373.8" cy="112.3" r="1.45" fill="#111"/>
<path d="M377.7,109.5V115.1" stroke="#2a2a2a" stroke-width="0.8" opacity="0.35"/>
<circle cx="377.7" cy="112.3" r="1.45" fill="#111"/>
<path d="M380.6,109.5V115.1" stroke="#2a2a2a" stroke-width="0.8" opacity="0.35"/>
<circle cx="380.6" cy="112.3" r="1.45" fill="#111"/>
<path d="M383.5,109.5V115.1" stroke="#2a2a2a" stroke-width="0.8" opacity="0.35"/>
<circle cx="383.5" cy="112.3" r="1.45" fill="#111"/>
<path d="M385.4,109.5V115.1" stroke="#2a2a2a" stroke-width="0.8" opacity="0.35"/>
<circle cx="385.4" cy="112.3" r="1.45" fill="#111"/>
<path d="M391.5,109.5V115.1" stroke="#2a2a2a" stroke-width="0.8" opacity="0.35"/>
<circle cx="391.5" cy="112.3" r="1.45" fill="#111"/>
<path d="M411.9,133.4V139.0" stroke="#2a2a2a" stroke-width="0.8" opacity="0.35"/>
<circle cx="411.9" cy="136.2" r="1.45" fill="#111"/>
<path d="M422.7,149.5V155.1" stroke="#2a2a2a" stroke-width="0.8" opacity="0.35"/>
<circle cx="422.7" cy="152.3" r="1.45" fill="#111"/>
<path d="M455.1,149.5V155.1" stroke="#2a2a2a" stroke-width="0.8" opacity="0.35"/>
<circle cx="455.1" cy="152.3" r="1.45" fill="#111"/>
<path d="M467.2,149.5V155.1" stroke="#2a2a2a" stroke-width="0.8" opacity="0.35"/>
<circle cx="467.2" cy="152.3" r="1.45" fill="#111"/>
<path d="M501.5,149.5V155.1" stroke="#2a2a2a" stroke-width="0.8" opacity="0.35"/>
<circle cx="501.5" cy="152.3" r="1.45" fill="#111"/>
<path transform="scale(0.8,1)" d="M382.7,39.4H386.2V42.0H388.8V45.5H391.9V49.0H394.4V52.5H396.9V56.5H399.1V60.0H401.2V65.8H402.2V72.0H402.7V72.4H407.4V76.5H411.0V85.6H413.8V88.0H416.2V90.5H420.0V93.5H423.8V96.5H426.9V99.0H431.2V100.5H438.4H438.5V109.2H441.4V116.2H454.8V124.9H468.2V135.4H485.6V146.4H489.5V161.6H522.6V205.0H561.0" fill="none" stroke="#2a2a2a" stroke-width="1.4"/>
<path d="M325.8,73.4V79.0" stroke="#2a2a2a" stroke-width="0.8" opacity="0.35"/>
<circle cx="325.8" cy="76.2" r="1.45" fill="#111"/>
<path d="M330.6,84.9V90.5" stroke="#2a2a2a" stroke-width="0.8" opacity="0.35"/>
<circle cx="330.6" cy="87.7" r="1.45" fill="#111"/>
<path d="M333.0,87.7V93.3" stroke="#2a2a2a" stroke-width="0.8" opacity="0.35"/>
<circle cx="333.0" cy="90.5" r="1.45" fill="#111"/>
<path d="M339.0,93.7V99.3" stroke="#2a2a2a" stroke-width="0.8" opacity="0.35"/>
<circle cx="339.0" cy="96.5" r="1.45" fill="#111"/>
<path d="M341.2,94.7V100.3" stroke="#2a2a2a" stroke-width="0.8" opacity="0.35"/>
<circle cx="341.2" cy="97.5" r="1.45" fill="#111"/>
<path d="M343.1,96.2V101.8" stroke="#2a2a2a" stroke-width="0.8" opacity="0.35"/>
<circle cx="343.1" cy="99.0" r="1.45" fill="#111"/>
<path d="M345.0,97.7V103.3" stroke="#2a2a2a" stroke-width="0.8" opacity="0.35"/>
<circle cx="345.0" cy="100.5" r="1.45" fill="#111"/>
<path d="M346.0,97.7V103.3" stroke="#2a2a2a" stroke-width="0.8" opacity="0.35"/>
<circle cx="346.0" cy="100.5" r="1.45" fill="#111"/>
<path d="M352.7,106.4V112.0" stroke="#2a2a2a" stroke-width="0.8" opacity="0.35"/>
<circle cx="352.7" cy="109.2" r="1.45" fill="#111"/>
<path d="M354.6,113.4V119.0" stroke="#2a2a2a" stroke-width="0.8" opacity="0.35"/>
<circle cx="354.6" cy="116.2" r="1.45" fill="#111"/>
<path d="M357.5,113.4V119.0" stroke="#2a2a2a" stroke-width="0.8" opacity="0.35"/>
<circle cx="357.5" cy="116.2" r="1.45" fill="#111"/>
<path d="M360.4,113.4V119.0" stroke="#2a2a2a" stroke-width="0.8" opacity="0.35"/>
<circle cx="360.4" cy="116.2" r="1.45" fill="#111"/>
<path d="M366.2,122.1V127.7" stroke="#2a2a2a" stroke-width="0.8" opacity="0.35"/>
<circle cx="366.2" cy="124.9" r="1.45" fill="#111"/>
<path d="M395.0,158.8V164.4" stroke="#2a2a2a" stroke-width="0.8" opacity="0.35"/>
<circle cx="395.0" cy="161.6" r="1.45" fill="#111"/>
<path d="M397.5,158.8V164.4" stroke="#2a2a2a" stroke-width="0.8" opacity="0.35"/>
<circle cx="397.5" cy="161.6" r="1.45" fill="#111"/>
<path d="M400.0,158.8V164.4" stroke="#2a2a2a" stroke-width="0.8" opacity="0.35"/>
<circle cx="400.0" cy="161.6" r="1.45" fill="#111"/>
<path d="M403.0,158.8V164.4" stroke="#2a2a2a" stroke-width="0.8" opacity="0.35"/>
<circle cx="403.0" cy="161.6" r="1.45" fill="#111"/>
<path d="M448.8,202.2V207.8" stroke="#2a2a2a" stroke-width="0.8" opacity="0.35"/>
<circle cx="448.8" cy="205.0" r="1.45" fill="#111"/>
<path transform="scale(0.8,1)" d="M382.0,48.7H388.0V56.9H392.1H393.2V84.5H394.1V102.7H397.2V120.9H398.8V139.0H400.4V148.0H405.6V157.2H410.1V166.2H412.4V175.3H414.0V184.4H462.0V195.1H516.9V221.6H574.6" fill="none" stroke="#2a2a2a" stroke-width="1.4"/>
<path d="M310.8,53.8V59.4" stroke="#2a2a2a" stroke-width="0.8" opacity="0.35"/>
<circle cx="310.8" cy="56.6" r="1.45" fill="#111"/>
<path d="M356.0,181.6V187.2" stroke="#2a2a2a" stroke-width="0.8" opacity="0.35"/>
<circle cx="356.0" cy="184.4" r="1.45" fill="#111"/>
<path d="M378.9,192.3V197.9" stroke="#2a2a2a" stroke-width="0.8" opacity="0.35"/>
<circle cx="378.9" cy="195.1" r="1.45" fill="#111"/>
<path d="M411.9,192.3V197.9" stroke="#2a2a2a" stroke-width="0.8" opacity="0.35"/>
<circle cx="411.9" cy="195.1" r="1.45" fill="#111"/>
<path d="M459.7,218.8V224.4" stroke="#2a2a2a" stroke-width="0.8" opacity="0.35"/>
<circle cx="459.7" cy="221.6" r="1.45" fill="#111"/>
<path transform="scale(0.8,1)" d="M388.0,48.7H391.6" fill="none" stroke="#2a2a2a" stroke-width="1.4"/>
<path transform="scale(0.8,1)" d="M60.6,357.6H69.5V359.8H74.1V362.3H79.7V364.8H100.5H103.9V367.2H158.5V373.8H168.9V382.7H204.8V404.5H291.1" fill="none" stroke="#2a2a2a" stroke-width="1.4"/>
<path d="M48.5,354.8V360.4" stroke="#2a2a2a" stroke-width="0.8" opacity="0.35"/>
<circle cx="48.5" cy="357.6" r="1.45" fill="#111"/>
<path d="M79.1,362.0V367.6" stroke="#2a2a2a" stroke-width="0.8" opacity="0.35"/>
<circle cx="79.1" cy="364.8" r="1.45" fill="#111"/>
<path d="M84.0,364.4V370.0" stroke="#2a2a2a" stroke-width="0.8" opacity="0.35"/>
<circle cx="84.0" cy="367.2" r="1.45" fill="#111"/>
<path d="M86.6,364.4V370.0" stroke="#2a2a2a" stroke-width="0.8" opacity="0.35"/>
<circle cx="86.6" cy="367.2" r="1.45" fill="#111"/>
<path d="M89.2,364.4V370.0" stroke="#2a2a2a" stroke-width="0.8" opacity="0.35"/>
<circle cx="89.2" cy="367.2" r="1.45" fill="#111"/>
<path d="M91.8,364.4V370.0" stroke="#2a2a2a" stroke-width="0.8" opacity="0.35"/>
<circle cx="91.8" cy="367.2" r="1.45" fill="#111"/>
<path d="M94.4,364.4V370.0" stroke="#2a2a2a" stroke-width="0.8" opacity="0.35"/>
<circle cx="94.4" cy="367.2" r="1.45" fill="#111"/>
<path d="M97.0,364.4V370.0" stroke="#2a2a2a" stroke-width="0.8" opacity="0.35"/>
<circle cx="97.0" cy="367.2" r="1.45" fill="#111"/>
<path d="M99.6,364.4V370.0" stroke="#2a2a2a" stroke-width="0.8" opacity="0.35"/>
<circle cx="99.6" cy="367.2" r="1.45" fill="#111"/>
<path d="M102.2,364.4V370.0" stroke="#2a2a2a" stroke-width="0.8" opacity="0.35"/>
<circle cx="102.2" cy="367.2" r="1.45" fill="#111"/>
<path d="M104.8,364.4V370.0" stroke="#2a2a2a" stroke-width="0.8" opacity="0.35"/>
<circle cx="104.8" cy="367.2" r="1.45" fill="#111"/>
<path d="M107.4,364.4V370.0" stroke="#2a2a2a" stroke-width="0.8" opacity="0.35"/>
<circle cx="107.4" cy="367.2" r="1.45" fill="#111"/>
<path d="M110.0,364.4V370.0" stroke="#2a2a2a" stroke-width="0.8" opacity="0.35"/>
<circle cx="110.0" cy="367.2" r="1.45" fill="#111"/>
<path d="M112.6,364.4V370.0" stroke="#2a2a2a" stroke-width="0.8" opacity="0.35"/>
<circle cx="112.6" cy="367.2" r="1.45" fill="#111"/>
<path d="M115.2,364.4V370.0" stroke="#2a2a2a" stroke-width="0.8" opacity="0.35"/>
<circle cx="115.2" cy="367.2" r="1.45" fill="#111"/>
<path d="M117.8,364.4V370.0" stroke="#2a2a2a" stroke-width="0.8" opacity="0.35"/>
<circle cx="117.8" cy="367.2" r="1.45" fill="#111"/>
<path d="M120.4,364.4V370.0" stroke="#2a2a2a" stroke-width="0.8" opacity="0.35"/>
<circle cx="120.4" cy="367.2" r="1.45" fill="#111"/>
<path d="M123.0,364.4V370.0" stroke="#2a2a2a" stroke-width="0.8" opacity="0.35"/>
<circle cx="123.0" cy="367.2" r="1.45" fill="#111"/>
<path d="M129.2,371.0V376.6" stroke="#2a2a2a" stroke-width="0.8" opacity="0.35"/>
<circle cx="129.2" cy="373.8" r="1.45" fill="#111"/>
<path d="M133.5,371.0V376.6" stroke="#2a2a2a" stroke-width="0.8" opacity="0.35"/>
<circle cx="133.5" cy="373.8" r="1.45" fill="#111"/>
<path d="M144.3,379.9V385.5" stroke="#2a2a2a" stroke-width="0.8" opacity="0.35"/>
<circle cx="144.3" cy="382.7" r="1.45" fill="#111"/>
<path d="M149.2,379.9V385.5" stroke="#2a2a2a" stroke-width="0.8" opacity="0.35"/>
<circle cx="149.2" cy="382.7" r="1.45" fill="#111"/>
<path d="M155.4,379.9V385.5" stroke="#2a2a2a" stroke-width="0.8" opacity="0.35"/>
<circle cx="155.4" cy="382.7" r="1.45" fill="#111"/>
<path d="M162.3,379.9V385.5" stroke="#2a2a2a" stroke-width="0.8" opacity="0.35"/>
<circle cx="162.3" cy="382.7" r="1.45" fill="#111"/>
<path d="M165.9,401.7V407.3" stroke="#2a2a2a" stroke-width="0.8" opacity="0.35"/>
<circle cx="165.9" cy="404.5" r="1.45" fill="#111"/>
<path d="M172.7,401.7V407.3" stroke="#2a2a2a" stroke-width="0.8" opacity="0.35"/>
<circle cx="172.7" cy="404.5" r="1.45" fill="#111"/>
<path d="M191.4,401.7V407.3" stroke="#2a2a2a" stroke-width="0.8" opacity="0.35"/>
<circle cx="191.4" cy="404.5" r="1.45" fill="#111"/>
<path d="M193.7,401.7V407.3" stroke="#2a2a2a" stroke-width="0.8" opacity="0.35"/>
<circle cx="193.7" cy="404.5" r="1.45" fill="#111"/>
<path d="M224.7,401.7V407.3" stroke="#2a2a2a" stroke-width="0.8" opacity="0.35"/>
<circle cx="224.7" cy="404.5" r="1.45" fill="#111"/>
<path d="M232.9,401.7V407.3" stroke="#2a2a2a" stroke-width="0.8" opacity="0.35"/>
<circle cx="232.9" cy="404.5" r="1.45" fill="#111"/>
<path transform="scale(0.8,1)" d="M60.6,357.6H62.8V359.0H69.5V362.7V367.7H71.5V371.4H80.2V376.8H82.9V382.1H88.0V385.8H91.1V391.6H102.9V396.2H121.2H123.1V400.8H169.2V411.3H306.6" fill="none" stroke="#2a2a2a" stroke-width="1.4"/>
<path d="M64.2,368.6V374.2" stroke="#2a2a2a" stroke-width="0.8" opacity="0.35"/>
<circle cx="64.2" cy="371.4" r="1.45" fill="#111"/>
<path d="M75.0,388.8V394.4" stroke="#2a2a2a" stroke-width="0.8" opacity="0.35"/>
<circle cx="75.0" cy="391.6" r="1.45" fill="#111"/>
<path d="M85.4,393.4V399.0" stroke="#2a2a2a" stroke-width="0.8" opacity="0.35"/>
<circle cx="85.4" cy="396.2" r="1.45" fill="#111"/>
<path d="M90.0,393.4V399.0" stroke="#2a2a2a" stroke-width="0.8" opacity="0.35"/>
<circle cx="90.0" cy="396.2" r="1.45" fill="#111"/>
<path d="M93.1,393.4V399.0" stroke="#2a2a2a" stroke-width="0.8" opacity="0.35"/>
<circle cx="93.1" cy="396.2" r="1.45" fill="#111"/>
<path d="M95.0,393.4V399.0" stroke="#2a2a2a" stroke-width="0.8" opacity="0.35"/>
<circle cx="95.0" cy="396.2" r="1.45" fill="#111"/>
<path d="M105.4,398.0V403.6" stroke="#2a2a2a" stroke-width="0.8" opacity="0.35"/>
<circle cx="105.4" cy="400.8" r="1.45" fill="#111"/>
<path d="M109.0,398.0V403.6" stroke="#2a2a2a" stroke-width="0.8" opacity="0.35"/>
<circle cx="109.0" cy="400.8" r="1.45" fill="#111"/>
<path d="M114.6,398.0V403.6" stroke="#2a2a2a" stroke-width="0.8" opacity="0.35"/>
<circle cx="114.6" cy="400.8" r="1.45" fill="#111"/>
<path d="M118.5,398.0V403.6" stroke="#2a2a2a" stroke-width="0.8" opacity="0.35"/>
<circle cx="118.5" cy="400.8" r="1.45" fill="#111"/>
<path d="M122.3,398.0V403.6" stroke="#2a2a2a" stroke-width="0.8" opacity="0.35"/>
<circle cx="122.3" cy="400.8" r="1.45" fill="#111"/>
<path d="M128.9,398.0V403.6" stroke="#2a2a2a" stroke-width="0.8" opacity="0.35"/>
<circle cx="128.9" cy="400.8" r="1.45" fill="#111"/>
<path d="M134.6,398.0V403.6" stroke="#2a2a2a" stroke-width="0.8" opacity="0.35"/>
<circle cx="134.6" cy="400.8" r="1.45" fill="#111"/>
<path d="M153.5,408.5V414.1" stroke="#2a2a2a" stroke-width="0.8" opacity="0.35"/>
<circle cx="153.5" cy="411.3" r="1.45" fill="#111"/>
<path d="M160.3,408.5V414.1" stroke="#2a2a2a" stroke-width="0.8" opacity="0.35"/>
<circle cx="160.3" cy="411.3" r="1.45" fill="#111"/>
<path d="M164.6,408.5V414.1" stroke="#2a2a2a" stroke-width="0.8" opacity="0.35"/>
<circle cx="164.6" cy="411.3" r="1.45" fill="#111"/>
<path d="M168.9,408.5V414.1" stroke="#2a2a2a" stroke-width="0.8" opacity="0.35"/>
<circle cx="168.9" cy="411.3" r="1.45" fill="#111"/>
<path d="M172.6,408.5V414.1" stroke="#2a2a2a" stroke-width="0.8" opacity="0.35"/>
<circle cx="172.6" cy="411.3" r="1.45" fill="#111"/>
<path d="M181.5,408.5V414.1" stroke="#2a2a2a" stroke-width="0.8" opacity="0.35"/>
<circle cx="181.5" cy="411.3" r="1.45" fill="#111"/>
<path d="M185.4,408.5V414.1" stroke="#2a2a2a" stroke-width="0.8" opacity="0.35"/>
<circle cx="185.4" cy="411.3" r="1.45" fill="#111"/>
<path d="M204.1,408.5V414.1" stroke="#2a2a2a" stroke-width="0.8" opacity="0.35"/>
<circle cx="204.1" cy="411.3" r="1.45" fill="#111"/>
<path d="M245.3,408.5V414.1" stroke="#2a2a2a" stroke-width="0.8" opacity="0.35"/>
<circle cx="245.3" cy="411.3" r="1.45" fill="#111"/>
<path transform="scale(0.8,1)" d="M60.6,357.6H63.2V364.8H67.4V368.5H72.0V371.0V378.4H78.2V381.3H84.9V389.5H91.1H91.4V395.4H99.0V402.3H123.2V411.5H176.9V439.3H201.9" fill="none" stroke="#2a2a2a" stroke-width="1.4"/>
<path d="M48.5,362.0V367.6" stroke="#2a2a2a" stroke-width="0.8" opacity="0.35"/>
<circle cx="48.5" cy="364.8" r="1.45" fill="#111"/>
<path d="M83.2,399.5V405.1" stroke="#2a2a2a" stroke-width="0.8" opacity="0.35"/>
<circle cx="83.2" cy="402.3" r="1.45" fill="#111"/>
<path d="M86.0,399.5V405.1" stroke="#2a2a2a" stroke-width="0.8" opacity="0.35"/>
<circle cx="86.0" cy="402.3" r="1.45" fill="#111"/>
<path d="M89.0,399.5V405.1" stroke="#2a2a2a" stroke-width="0.8" opacity="0.35"/>
<circle cx="89.0" cy="402.3" r="1.45" fill="#111"/>
<path d="M92.0,399.5V405.1" stroke="#2a2a2a" stroke-width="0.8" opacity="0.35"/>
<circle cx="92.0" cy="402.3" r="1.45" fill="#111"/>
<path d="M95.0,399.5V405.1" stroke="#2a2a2a" stroke-width="0.8" opacity="0.35"/>
<circle cx="95.0" cy="402.3" r="1.45" fill="#111"/>
<path d="M116.3,408.7V414.3" stroke="#2a2a2a" stroke-width="0.8" opacity="0.35"/>
<circle cx="116.3" cy="411.5" r="1.45" fill="#111"/>
<path d="M122.8,408.7V414.3" stroke="#2a2a2a" stroke-width="0.8" opacity="0.35"/>
<circle cx="122.8" cy="411.5" r="1.45" fill="#111"/>
<path d="M126.9,408.7V414.3" stroke="#2a2a2a" stroke-width="0.8" opacity="0.35"/>
<circle cx="126.9" cy="411.5" r="1.45" fill="#111"/>
<path d="M131.5,408.7V414.3" stroke="#2a2a2a" stroke-width="0.8" opacity="0.35"/>
<circle cx="131.5" cy="411.5" r="1.45" fill="#111"/>
<path d="M135.4,408.7V414.3" stroke="#2a2a2a" stroke-width="0.8" opacity="0.35"/>
<circle cx="135.4" cy="411.5" r="1.45" fill="#111"/>
<path d="M138.5,408.7V414.3" stroke="#2a2a2a" stroke-width="0.8" opacity="0.35"/>
<circle cx="138.5" cy="411.5" r="1.45" fill="#111"/>
<path d="M143.5,436.5V442.1" stroke="#2a2a2a" stroke-width="0.8" opacity="0.35"/>
<circle cx="143.5" cy="439.3" r="1.45" fill="#111"/>
<path d="M146.0,436.5V442.1" stroke="#2a2a2a" stroke-width="0.8" opacity="0.35"/>
<circle cx="146.0" cy="439.3" r="1.45" fill="#111"/>
<path d="M150.0,436.5V442.1" stroke="#2a2a2a" stroke-width="0.8" opacity="0.35"/>
<circle cx="150.0" cy="439.3" r="1.45" fill="#111"/>
<path d="M154.0,436.5V442.1" stroke="#2a2a2a" stroke-width="0.8" opacity="0.35"/>
<circle cx="154.0" cy="439.3" r="1.45" fill="#111"/>
<path d="M158.0,436.5V442.1" stroke="#2a2a2a" stroke-width="0.8" opacity="0.35"/>
<circle cx="158.0" cy="439.3" r="1.45" fill="#111"/>
<path d="M161.5,436.5V442.1" stroke="#2a2a2a" stroke-width="0.8" opacity="0.35"/>
<circle cx="161.5" cy="439.3" r="1.45" fill="#111"/>
<path transform="scale(0.8,1)" d="M60.6,357.6H62.0V364.6V374.8H67.4V383.8H72.5H73.2V410.0H75.8V418.5H80.0V427.7H122.2V439.2H281.4" fill="none" stroke="#2a2a2a" stroke-width="1.4"/>
<path d="M83.2,424.9V430.5" stroke="#2a2a2a" stroke-width="0.8" opacity="0.35"/>
<circle cx="83.2" cy="427.7" r="1.45" fill="#111"/>
<path d="M93.2,424.9V430.5" stroke="#2a2a2a" stroke-width="0.8" opacity="0.35"/>
<circle cx="93.2" cy="427.7" r="1.45" fill="#111"/>
<path d="M102.5,436.4V442.0" stroke="#2a2a2a" stroke-width="0.8" opacity="0.35"/>
<circle cx="102.5" cy="439.2" r="1.45" fill="#111"/>
<path d="M105.5,436.4V442.0" stroke="#2a2a2a" stroke-width="0.8" opacity="0.35"/>
<circle cx="105.5" cy="439.2" r="1.45" fill="#111"/>
<path d="M216.5,436.4V442.0" stroke="#2a2a2a" stroke-width="0.8" opacity="0.35"/>
<circle cx="216.5" cy="439.2" r="1.45" fill="#111"/>
<path d="M225.1,436.4V442.0" stroke="#2a2a2a" stroke-width="0.8" opacity="0.35"/>
<circle cx="225.1" cy="439.2" r="1.45" fill="#111"/>
<path transform="scale(0.8,1)" d="M386.9,354.1H403.1V359.5H405.6V361.6H481.0H483.4V369.0H492.9V376.9H527.4V401.0H628.8" fill="none" stroke="#2a2a2a" stroke-width="1.4"/>
<path d="M309.5,351.3V356.9" stroke="#2a2a2a" stroke-width="0.8" opacity="0.35"/>
<circle cx="309.5" cy="354.1" r="1.45" fill="#111"/>
<path d="M339.6,358.8V364.4" stroke="#2a2a2a" stroke-width="0.8" opacity="0.35"/>
<circle cx="339.6" cy="361.6" r="1.45" fill="#111"/>
<path d="M344.4,358.8V364.4" stroke="#2a2a2a" stroke-width="0.8" opacity="0.35"/>
<circle cx="344.4" cy="361.6" r="1.45" fill="#111"/>
<path d="M347.0,358.8V364.4" stroke="#2a2a2a" stroke-width="0.8" opacity="0.35"/>
<circle cx="347.0" cy="361.6" r="1.45" fill="#111"/>
<path d="M349.5,358.8V364.4" stroke="#2a2a2a" stroke-width="0.8" opacity="0.35"/>
<circle cx="349.5" cy="361.6" r="1.45" fill="#111"/>
<path d="M352.0,358.8V364.4" stroke="#2a2a2a" stroke-width="0.8" opacity="0.35"/>
<circle cx="352.0" cy="361.6" r="1.45" fill="#111"/>
<path d="M354.5,358.8V364.4" stroke="#2a2a2a" stroke-width="0.8" opacity="0.35"/>
<circle cx="354.5" cy="361.6" r="1.45" fill="#111"/>
<path d="M357.0,358.8V364.4" stroke="#2a2a2a" stroke-width="0.8" opacity="0.35"/>
<circle cx="357.0" cy="361.6" r="1.45" fill="#111"/>
<path d="M359.5,358.8V364.4" stroke="#2a2a2a" stroke-width="0.8" opacity="0.35"/>
<circle cx="359.5" cy="361.6" r="1.45" fill="#111"/>
<path d="M362.0,358.8V364.4" stroke="#2a2a2a" stroke-width="0.8" opacity="0.35"/>
<circle cx="362.0" cy="361.6" r="1.45" fill="#111"/>
<path d="M364.5,358.8V364.4" stroke="#2a2a2a" stroke-width="0.8" opacity="0.35"/>
<circle cx="364.5" cy="361.6" r="1.45" fill="#111"/>
<path d="M367.0,358.8V364.4" stroke="#2a2a2a" stroke-width="0.8" opacity="0.35"/>
<circle cx="367.0" cy="361.6" r="1.45" fill="#111"/>
<path d="M369.5,358.8V364.4" stroke="#2a2a2a" stroke-width="0.8" opacity="0.35"/>
<circle cx="369.5" cy="361.6" r="1.45" fill="#111"/>
<path d="M372.0,358.8V364.4" stroke="#2a2a2a" stroke-width="0.8" opacity="0.35"/>
<circle cx="372.0" cy="361.6" r="1.45" fill="#111"/>
<path d="M374.5,358.8V364.4" stroke="#2a2a2a" stroke-width="0.8" opacity="0.35"/>
<circle cx="374.5" cy="361.6" r="1.45" fill="#111"/>
<path d="M377.0,358.8V364.4" stroke="#2a2a2a" stroke-width="0.8" opacity="0.35"/>
<circle cx="377.0" cy="361.6" r="1.45" fill="#111"/>
<path d="M380.0,358.8V364.4" stroke="#2a2a2a" stroke-width="0.8" opacity="0.35"/>
<circle cx="380.0" cy="361.6" r="1.45" fill="#111"/>
<path d="M383.0,358.8V364.4" stroke="#2a2a2a" stroke-width="0.8" opacity="0.35"/>
<circle cx="383.0" cy="361.6" r="1.45" fill="#111"/>
<path d="M388.7,366.2V371.8" stroke="#2a2a2a" stroke-width="0.8" opacity="0.35"/>
<circle cx="388.7" cy="369.0" r="1.45" fill="#111"/>
<path d="M391.2,366.2V371.8" stroke="#2a2a2a" stroke-width="0.8" opacity="0.35"/>
<circle cx="391.2" cy="369.0" r="1.45" fill="#111"/>
<path d="M393.8,366.2V371.8" stroke="#2a2a2a" stroke-width="0.8" opacity="0.35"/>
<circle cx="393.8" cy="369.0" r="1.45" fill="#111"/>
<path d="M397.0,374.1V379.7" stroke="#2a2a2a" stroke-width="0.8" opacity="0.35"/>
<circle cx="397.0" cy="376.9" r="1.45" fill="#111"/>
<path d="M403.0,374.1V379.7" stroke="#2a2a2a" stroke-width="0.8" opacity="0.35"/>
<circle cx="403.0" cy="376.9" r="1.45" fill="#111"/>
<path d="M407.9,374.1V379.7" stroke="#2a2a2a" stroke-width="0.8" opacity="0.35"/>
<circle cx="407.9" cy="376.9" r="1.45" fill="#111"/>
<path d="M412.7,374.1V379.7" stroke="#2a2a2a" stroke-width="0.8" opacity="0.35"/>
<circle cx="412.7" cy="376.9" r="1.45" fill="#111"/>
<path d="M417.5,374.1V379.7" stroke="#2a2a2a" stroke-width="0.8" opacity="0.35"/>
<circle cx="417.5" cy="376.9" r="1.45" fill="#111"/>
<path d="M421.9,374.1V379.7" stroke="#2a2a2a" stroke-width="0.8" opacity="0.35"/>
<circle cx="421.9" cy="376.9" r="1.45" fill="#111"/>
<path d="M426.3,398.2V403.8" stroke="#2a2a2a" stroke-width="0.8" opacity="0.35"/>
<circle cx="426.3" cy="401.0" r="1.45" fill="#111"/>
<path d="M430.0,398.2V403.8" stroke="#2a2a2a" stroke-width="0.8" opacity="0.35"/>
<circle cx="430.0" cy="401.0" r="1.45" fill="#111"/>
<path d="M437.5,398.2V403.8" stroke="#2a2a2a" stroke-width="0.8" opacity="0.35"/>
<circle cx="437.5" cy="401.0" r="1.45" fill="#111"/>
<path d="M442.5,398.2V403.8" stroke="#2a2a2a" stroke-width="0.8" opacity="0.35"/>
<circle cx="442.5" cy="401.0" r="1.45" fill="#111"/>
<path d="M450.0,398.2V403.8" stroke="#2a2a2a" stroke-width="0.8" opacity="0.35"/>
<circle cx="450.0" cy="401.0" r="1.45" fill="#111"/>
<path d="M461.3,398.2V403.8" stroke="#2a2a2a" stroke-width="0.8" opacity="0.35"/>
<circle cx="461.3" cy="401.0" r="1.45" fill="#111"/>
<path d="M470.0,398.2V403.8" stroke="#2a2a2a" stroke-width="0.8" opacity="0.35"/>
<circle cx="470.0" cy="401.0" r="1.45" fill="#111"/>
<path d="M482.0,398.2V403.8" stroke="#2a2a2a" stroke-width="0.8" opacity="0.35"/>
<circle cx="482.0" cy="401.0" r="1.45" fill="#111"/>
<path d="M490.0,398.2V403.8" stroke="#2a2a2a" stroke-width="0.8" opacity="0.35"/>
<circle cx="490.0" cy="401.0" r="1.45" fill="#111"/>
<path d="M503.0,398.2V403.8" stroke="#2a2a2a" stroke-width="0.8" opacity="0.35"/>
<circle cx="503.0" cy="401.0" r="1.45" fill="#111"/>
<path transform="scale(0.8,1)" d="M386.9,354.1H395.1V354.9H399.5V357.2H402.4V359.0H404.5V360.4H407.4V364.7H408.9V368.2H411.7V369.9H413.5V372.8H418.2V379.1H423.2V382.6H430.5V386.8H446.5V391.5H491.9V396.0H497.9V401.0H628.8" fill="none" stroke="#2a2a2a" stroke-width="1.4"/>
<path d="M323.6,357.6V363.2" stroke="#2a2a2a" stroke-width="0.8" opacity="0.35"/>
<circle cx="323.6" cy="360.4" r="1.45" fill="#111"/>
<path d="M329.4,367.1V372.7" stroke="#2a2a2a" stroke-width="0.8" opacity="0.35"/>
<circle cx="329.4" cy="369.9" r="1.45" fill="#111"/>
<path d="M339.2,379.8V385.4" stroke="#2a2a2a" stroke-width="0.8" opacity="0.35"/>
<circle cx="339.2" cy="382.6" r="1.45" fill="#111"/>
<path d="M343.0,379.8V385.4" stroke="#2a2a2a" stroke-width="0.8" opacity="0.35"/>
<circle cx="343.0" cy="382.6" r="1.45" fill="#111"/>
<path d="M349.8,384.0V389.6" stroke="#2a2a2a" stroke-width="0.8" opacity="0.35"/>
<circle cx="349.8" cy="386.8" r="1.45" fill="#111"/>
<path d="M352.5,384.0V389.6" stroke="#2a2a2a" stroke-width="0.8" opacity="0.35"/>
<circle cx="352.5" cy="386.8" r="1.45" fill="#111"/>
<path d="M355.2,384.0V389.6" stroke="#2a2a2a" stroke-width="0.8" opacity="0.35"/>
<circle cx="355.2" cy="386.8" r="1.45" fill="#111"/>
<path d="M360.6,388.7V394.3" stroke="#2a2a2a" stroke-width="0.8" opacity="0.35"/>
<circle cx="360.6" cy="391.5" r="1.45" fill="#111"/>
<path d="M363.3,388.7V394.3" stroke="#2a2a2a" stroke-width="0.8" opacity="0.35"/>
<circle cx="363.3" cy="391.5" r="1.45" fill="#111"/>
<path d="M366.0,388.7V394.3" stroke="#2a2a2a" stroke-width="0.8" opacity="0.35"/>
<circle cx="366.0" cy="391.5" r="1.45" fill="#111"/>
<path d="M369.0,388.7V394.3" stroke="#2a2a2a" stroke-width="0.8" opacity="0.35"/>
<circle cx="369.0" cy="391.5" r="1.45" fill="#111"/>
<path d="M372.0,388.7V394.3" stroke="#2a2a2a" stroke-width="0.8" opacity="0.35"/>
<circle cx="372.0" cy="391.5" r="1.45" fill="#111"/>
<path d="M374.5,388.7V394.3" stroke="#2a2a2a" stroke-width="0.8" opacity="0.35"/>
<circle cx="374.5" cy="391.5" r="1.45" fill="#111"/>
<path d="M377.0,388.7V394.3" stroke="#2a2a2a" stroke-width="0.8" opacity="0.35"/>
<circle cx="377.0" cy="391.5" r="1.45" fill="#111"/>
<path d="M388.5,388.7V394.3" stroke="#2a2a2a" stroke-width="0.8" opacity="0.35"/>
<circle cx="388.5" cy="391.5" r="1.45" fill="#111"/>
<path d="M395.0,398.2V403.8" stroke="#2a2a2a" stroke-width="0.8" opacity="0.35"/>
<circle cx="395.0" cy="401.0" r="1.45" fill="#111"/>
<path d="M399.0,398.2V403.8" stroke="#2a2a2a" stroke-width="0.8" opacity="0.35"/>
<circle cx="399.0" cy="401.0" r="1.45" fill="#111"/>
<path d="M402.3,398.2V403.8" stroke="#2a2a2a" stroke-width="0.8" opacity="0.35"/>
<circle cx="402.3" cy="401.0" r="1.45" fill="#111"/>
<path d="M412.5,398.2V403.8" stroke="#2a2a2a" stroke-width="0.8" opacity="0.35"/>
<circle cx="412.5" cy="401.0" r="1.45" fill="#111"/>
<path d="M418.8,398.2V403.8" stroke="#2a2a2a" stroke-width="0.8" opacity="0.35"/>
<circle cx="418.8" cy="401.0" r="1.45" fill="#111"/>
<path d="M423.8,398.2V403.8" stroke="#2a2a2a" stroke-width="0.8" opacity="0.35"/>
<circle cx="423.8" cy="401.0" r="1.45" fill="#111"/>
<path transform="scale(0.8,1)" d="M386.9,358.1H392.6V361.3H397.2V365.0H405.2V367.6H408.5V373.4H413.1H413.9V381.4H423.2V386.8H448.1V396.2H500.4V423.8H531.2" fill="none" stroke="#2a2a2a" stroke-width="1.4"/>
<path d="M309.5,355.3V360.9" stroke="#2a2a2a" stroke-width="0.8" opacity="0.35"/>
<circle cx="309.5" cy="358.1" r="1.45" fill="#111"/>
<path d="M341.0,384.0V389.6" stroke="#2a2a2a" stroke-width="0.8" opacity="0.35"/>
<circle cx="341.0" cy="386.8" r="1.45" fill="#111"/>
<path d="M344.0,384.0V389.6" stroke="#2a2a2a" stroke-width="0.8" opacity="0.35"/>
<circle cx="344.0" cy="386.8" r="1.45" fill="#111"/>
<path d="M360.6,393.4V399.0" stroke="#2a2a2a" stroke-width="0.8" opacity="0.35"/>
<circle cx="360.6" cy="396.2" r="1.45" fill="#111"/>
<path d="M363.3,393.4V399.0" stroke="#2a2a2a" stroke-width="0.8" opacity="0.35"/>
<circle cx="363.3" cy="396.2" r="1.45" fill="#111"/>
<path d="M375.4,393.4V399.0" stroke="#2a2a2a" stroke-width="0.8" opacity="0.35"/>
<circle cx="375.4" cy="396.2" r="1.45" fill="#111"/>
<path d="M381.4,393.4V399.0" stroke="#2a2a2a" stroke-width="0.8" opacity="0.35"/>
<circle cx="381.4" cy="396.2" r="1.45" fill="#111"/>
<path d="M386.1,393.4V399.0" stroke="#2a2a2a" stroke-width="0.8" opacity="0.35"/>
<circle cx="386.1" cy="396.2" r="1.45" fill="#111"/>
<path d="M390.2,393.4V399.0" stroke="#2a2a2a" stroke-width="0.8" opacity="0.35"/>
<circle cx="390.2" cy="396.2" r="1.45" fill="#111"/>
<path d="M394.2,393.4V399.0" stroke="#2a2a2a" stroke-width="0.8" opacity="0.35"/>
<circle cx="394.2" cy="396.2" r="1.45" fill="#111"/>
<path d="M397.6,393.4V399.0" stroke="#2a2a2a" stroke-width="0.8" opacity="0.35"/>
<circle cx="397.6" cy="396.2" r="1.45" fill="#111"/>
<path d="M403.8,421.0V426.6" stroke="#2a2a2a" stroke-width="0.8" opacity="0.35"/>
<circle cx="403.8" cy="423.8" r="1.45" fill="#111"/>
<path d="M407.5,421.0V426.6" stroke="#2a2a2a" stroke-width="0.8" opacity="0.35"/>
<circle cx="407.5" cy="423.8" r="1.45" fill="#111"/>
<path d="M413.0,421.0V426.6" stroke="#2a2a2a" stroke-width="0.8" opacity="0.35"/>
<circle cx="413.0" cy="423.8" r="1.45" fill="#111"/>
<path d="M418.8,421.0V426.6" stroke="#2a2a2a" stroke-width="0.8" opacity="0.35"/>
<circle cx="418.8" cy="423.8" r="1.45" fill="#111"/>
<path d="M425.0,421.0V426.6" stroke="#2a2a2a" stroke-width="0.8" opacity="0.35"/>
<circle cx="425.0" cy="423.8" r="1.45" fill="#111"/>
<path transform="scale(0.8,1)" d="M388.8,363.3H393.0V371.8H396.9V390.1H400.2V406.9H405.8V415.6H410.6V426.2H445.9V437.3H603.1" fill="none" stroke="#2a2a2a" stroke-width="1.4"/>
<path d="M342.7,423.4V429.0" stroke="#2a2a2a" stroke-width="0.8" opacity="0.35"/>
<circle cx="342.7" cy="426.2" r="1.45" fill="#111"/>
<path d="M353.5,423.4V429.0" stroke="#2a2a2a" stroke-width="0.8" opacity="0.35"/>
<circle cx="353.5" cy="426.2" r="1.45" fill="#111"/>
<path d="M361.9,434.5V440.1" stroke="#2a2a2a" stroke-width="0.8" opacity="0.35"/>
<circle cx="361.9" cy="437.3" r="1.45" fill="#111"/>
<path d="M364.4,434.5V440.1" stroke="#2a2a2a" stroke-width="0.8" opacity="0.35"/>
<circle cx="364.4" cy="437.3" r="1.45" fill="#111"/>
<path d="M398.8,434.5V440.1" stroke="#2a2a2a" stroke-width="0.8" opacity="0.35"/>
<circle cx="398.8" cy="437.3" r="1.45" fill="#111"/>
<path d="M418.8,434.5V440.1" stroke="#2a2a2a" stroke-width="0.8" opacity="0.35"/>
<circle cx="418.8" cy="437.3" r="1.45" fill="#111"/>
<path d="M420.0,434.5V440.1" stroke="#2a2a2a" stroke-width="0.8" opacity="0.35"/>
<circle cx="420.0" cy="437.3" r="1.45" fill="#111"/>
<path d="M473.8,434.5V440.1" stroke="#2a2a2a" stroke-width="0.8" opacity="0.35"/>
<circle cx="473.8" cy="437.3" r="1.45" fill="#111"/>
<path d="M482.5,434.5V440.1" stroke="#2a2a2a" stroke-width="0.8" opacity="0.35"/>
<circle cx="482.5" cy="437.3" r="1.45" fill="#111"/>
</svg>
</body></html>
